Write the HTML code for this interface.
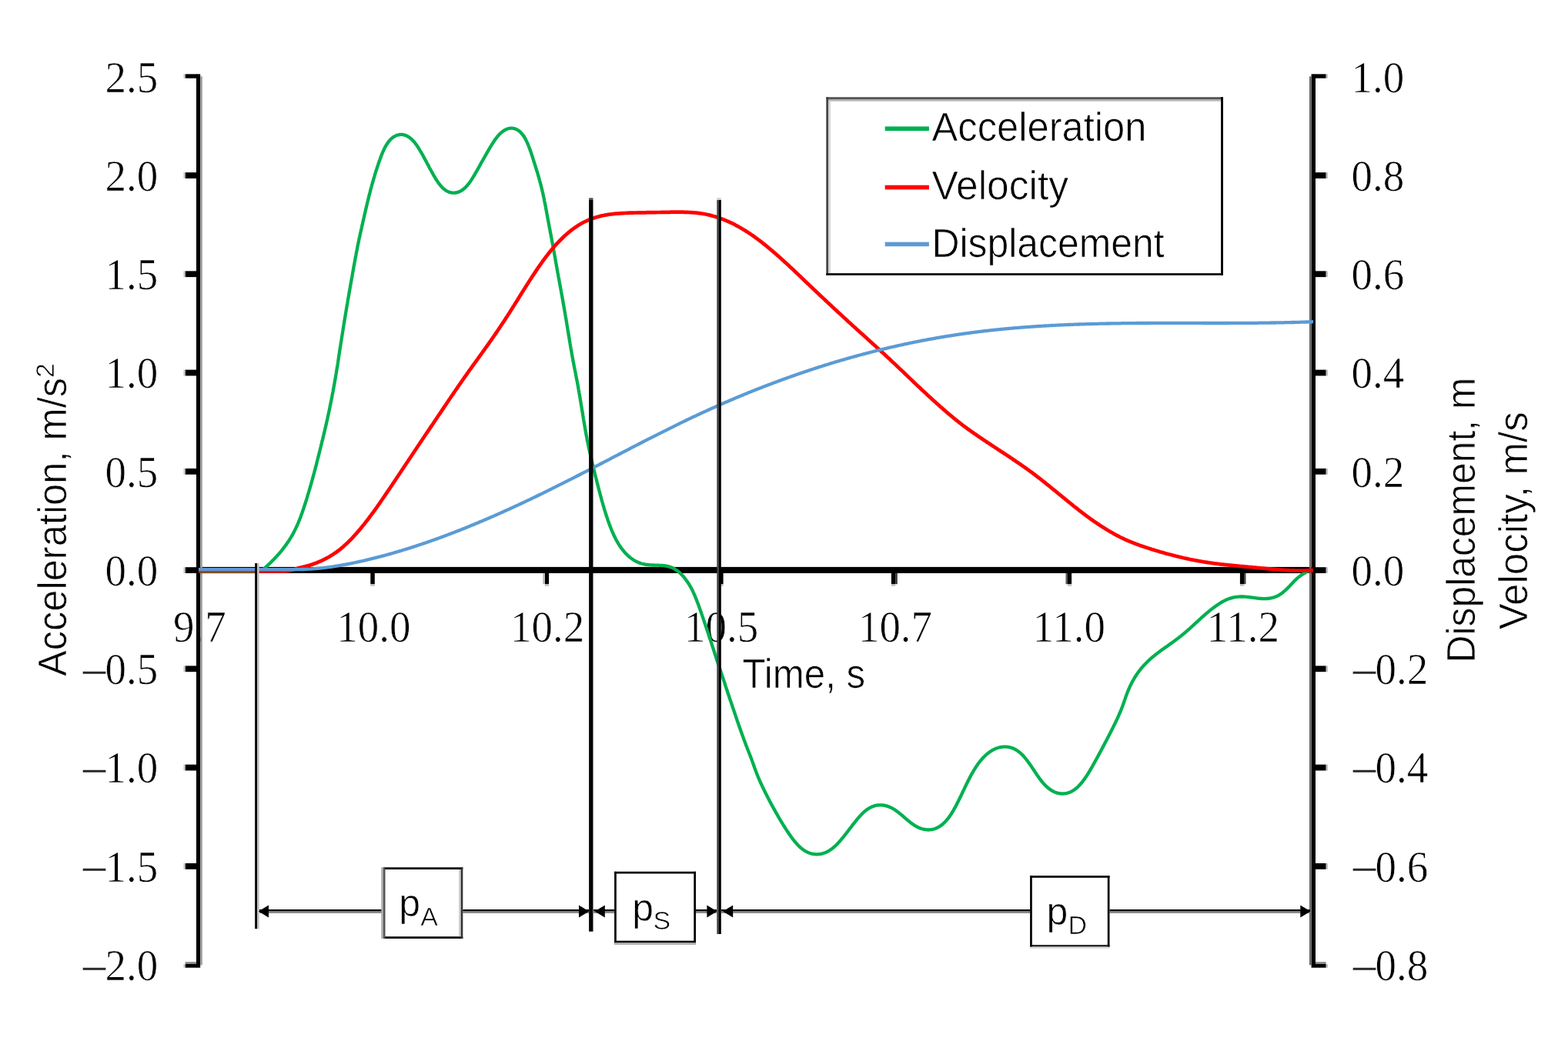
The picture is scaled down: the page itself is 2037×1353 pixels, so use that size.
<!DOCTYPE html>
<html lang="en"><head><meta charset="utf-8"><title>Acceleration, velocity and displacement vs time</title>
<style>html,body{margin:0;padding:0;background:#fff}body{width:2037px;height:1353px;overflow:hidden}svg{display:block}text{fill:#000;stroke:#fff;stroke-width:0.7px}</style>
</head><body>
<svg width="2037" height="1353" viewBox="0 0 2037 1353">
<rect x="0" y="0" width="2037" height="1353" fill="#fff"/>
<g font-family="'Liberation Serif',serif" font-size="57.5" style="stroke-width:0.3px">
<text x="136.6" y="119.5" textLength="68.8" lengthAdjust="spacingAndGlyphs">2.5</text>
<text x="136.6" y="247.8" textLength="68.8" lengthAdjust="spacingAndGlyphs">2.0</text>
<text x="136.6" y="376.0" textLength="68.8" lengthAdjust="spacingAndGlyphs">1.5</text>
<text x="136.6" y="504.3" textLength="68.8" lengthAdjust="spacingAndGlyphs">1.0</text>
<text x="136.6" y="632.6" textLength="68.8" lengthAdjust="spacingAndGlyphs">0.5</text>
<text x="136.6" y="760.9" textLength="68.8" lengthAdjust="spacingAndGlyphs">0.0</text>
<text><tspan x="104.5" y="893.8" font-size="60" textLength="36.0" lengthAdjust="spacingAndGlyphs" style="stroke:none;fill:#2a2a2a">−</tspan><tspan x="136.6" y="889.1" textLength="68.8" lengthAdjust="spacingAndGlyphs">0.5</tspan></text>
<text><tspan x="104.5" y="1022.1" font-size="60" textLength="36.0" lengthAdjust="spacingAndGlyphs" style="stroke:none;fill:#2a2a2a">−</tspan><tspan x="136.6" y="1017.4" textLength="68.8" lengthAdjust="spacingAndGlyphs">1.0</tspan></text>
<text><tspan x="104.5" y="1150.4" font-size="60" textLength="36.0" lengthAdjust="spacingAndGlyphs" style="stroke:none;fill:#2a2a2a">−</tspan><tspan x="136.6" y="1145.7" textLength="68.8" lengthAdjust="spacingAndGlyphs">1.5</tspan></text>
<text><tspan x="104.5" y="1278.6" font-size="60" textLength="36.0" lengthAdjust="spacingAndGlyphs" style="stroke:none;fill:#2a2a2a">−</tspan><tspan x="136.6" y="1273.9" textLength="68.8" lengthAdjust="spacingAndGlyphs">2.0</tspan></text>
<text x="1755.6" y="119.5" textLength="68.8" lengthAdjust="spacingAndGlyphs">1.0</text>
<text x="1755.6" y="247.8" textLength="68.8" lengthAdjust="spacingAndGlyphs">0.8</text>
<text x="1755.6" y="376.0" textLength="68.8" lengthAdjust="spacingAndGlyphs">0.6</text>
<text x="1755.6" y="504.3" textLength="68.8" lengthAdjust="spacingAndGlyphs">0.4</text>
<text x="1755.6" y="632.6" textLength="68.8" lengthAdjust="spacingAndGlyphs">0.2</text>
<text x="1755.6" y="760.9" textLength="68.8" lengthAdjust="spacingAndGlyphs">0.0</text>
<text><tspan x="1754.6" y="893.8" font-size="60" textLength="36.0" lengthAdjust="spacingAndGlyphs" style="stroke:none;fill:#2a2a2a">−</tspan><tspan x="1786.6" y="889.1" textLength="68.8" lengthAdjust="spacingAndGlyphs">0.2</tspan></text>
<text><tspan x="1754.6" y="1022.1" font-size="60" textLength="36.0" lengthAdjust="spacingAndGlyphs" style="stroke:none;fill:#2a2a2a">−</tspan><tspan x="1786.6" y="1017.4" textLength="68.8" lengthAdjust="spacingAndGlyphs">0.4</tspan></text>
<text><tspan x="1754.6" y="1150.4" font-size="60" textLength="36.0" lengthAdjust="spacingAndGlyphs" style="stroke:none;fill:#2a2a2a">−</tspan><tspan x="1786.6" y="1145.7" textLength="68.8" lengthAdjust="spacingAndGlyphs">0.6</tspan></text>
<text><tspan x="1754.6" y="1278.6" font-size="60" textLength="36.0" lengthAdjust="spacingAndGlyphs" style="stroke:none;fill:#2a2a2a">−</tspan><tspan x="1786.6" y="1273.9" textLength="68.8" lengthAdjust="spacingAndGlyphs">0.8</tspan></text>
<text x="225.0" y="834.0" textLength="68.8" lengthAdjust="spacingAndGlyphs">9.7</text>
<text x="437.2" y="834.0" textLength="96.2" lengthAdjust="spacingAndGlyphs">10.0</text>
<text x="663.1" y="834.0" textLength="96.2" lengthAdjust="spacingAndGlyphs">10.2</text>
<text x="889.0" y="834.0" textLength="96.2" lengthAdjust="spacingAndGlyphs">10.5</text>
<text x="1114.9" y="834.0" textLength="96.2" lengthAdjust="spacingAndGlyphs">10.7</text>
<text x="1341.8" y="834.0" textLength="94.2" lengthAdjust="spacingAndGlyphs">11.0</text>
<text x="1567.7" y="834.0" textLength="94.2" lengthAdjust="spacingAndGlyphs">11.2</text>
</g>
<text font-family="'Liberation Sans',sans-serif" font-size="53" x="964.6" y="894.1" textLength="159.5" lengthAdjust="spacingAndGlyphs">Time, s</text>
<g fill="#000">
<rect x="255" y="736.9" width="1454" height="8.1"/>
<rect x="255" y="96.3" width="5.2" height="1161.4"/>
<rect x="1703.6" y="96.3" width="5.4" height="1161.4"/>
<rect x="240.6" y="96.3" width="15" height="5.4"/>
<rect x="1708.5" y="96.3" width="14.2" height="5.4"/>
<rect x="240.6" y="224.1" width="15" height="7.8"/>
<rect x="1708.5" y="224.1" width="14.2" height="7.8"/>
<rect x="240.6" y="352.3" width="15" height="7.8"/>
<rect x="1708.5" y="352.3" width="14.2" height="7.8"/>
<rect x="240.6" y="480.6" width="15" height="7.8"/>
<rect x="1708.5" y="480.6" width="14.2" height="7.8"/>
<rect x="240.6" y="608.9" width="15" height="7.8"/>
<rect x="1708.5" y="608.9" width="14.2" height="7.8"/>
<rect x="240.6" y="737.2" width="15" height="7.8"/>
<rect x="1708.5" y="737.2" width="14.2" height="7.8"/>
<rect x="240.6" y="865.4" width="15" height="7.8"/>
<rect x="1708.5" y="865.4" width="14.2" height="7.8"/>
<rect x="240.6" y="993.7" width="15" height="7.8"/>
<rect x="1708.5" y="993.7" width="14.2" height="7.8"/>
<rect x="240.6" y="1122.0" width="15" height="7.8"/>
<rect x="1708.5" y="1122.0" width="14.2" height="7.8"/>
<rect x="240.6" y="1253.0" width="15" height="4.7"/>
<rect x="1708.5" y="1253.0" width="14.2" height="4.7"/>
<rect x="481.3" y="744" width="5.5" height="15.2"/>
<rect x="707.8" y="744" width="5.3" height="15.2"/>
<rect x="934.3" y="744" width="5.3" height="15.2"/>
<rect x="1157.9" y="744" width="5.3" height="15.2"/>
<rect x="1387.0" y="744" width="5.1" height="15.2"/>
<rect x="1610.9" y="744" width="5.2" height="15.2"/>
</g>
<g fill="#9a9a9a">
<rect x="260.2" y="99.3" width="2.6" height="1155"/>
</g>
<g fill="#666">
<rect x="1701" y="99.3" width="2.6" height="1155"/>
<rect x="1163.2" y="745" width="2.6" height="14.2" fill="#333"/>
<rect x="1384.5" y="745" width="2.5" height="14.2" fill="#555"/>
<rect x="240.6" y="1250.2" width="14.4" height="2.8" fill="#888"/>
<rect x="1709" y="1250.2" width="13.7" height="2.8" fill="#888"/>
<rect x="1616" y="745" width="2.5" height="14.2" fill="#444"/>
</g>
<g fill="#bbb">
<rect x="481.3" y="759.2" width="5.5" height="2.5"/>
<rect x="707.8" y="759.2" width="5.3" height="2.5"/>
<rect x="934.3" y="759.2" width="5.3" height="2.5"/>
<rect x="1157.9" y="759.2" width="5.3" height="2.5"/>
<rect x="1387.0" y="759.2" width="5.1" height="2.5"/>
<rect x="1610.9" y="759.2" width="5.2" height="2.5"/>
<rect x="705.2" y="745" width="2.6" height="14.2"/>
<rect x="238.6" y="96.3" width="2" height="5.4"/>
<rect x="1722.7" y="96.3" width="2.2" height="5.4"/>
<rect x="238.6" y="224.1" width="2" height="7.8"/>
<rect x="1722.7" y="224.1" width="2.2" height="7.8"/>
<rect x="238.6" y="352.3" width="2" height="7.8"/>
<rect x="1722.7" y="352.3" width="2.2" height="7.8"/>
<rect x="238.6" y="480.6" width="2" height="7.8"/>
<rect x="1722.7" y="480.6" width="2.2" height="7.8"/>
<rect x="238.6" y="608.9" width="2" height="7.8"/>
<rect x="1722.7" y="608.9" width="2.2" height="7.8"/>
<rect x="238.6" y="737.2" width="2" height="7.8"/>
<rect x="1722.7" y="737.2" width="2.2" height="7.8"/>
<rect x="238.6" y="865.4" width="2" height="7.8"/>
<rect x="1722.7" y="865.4" width="2.2" height="7.8"/>
<rect x="238.6" y="993.7" width="2" height="7.8"/>
<rect x="1722.7" y="993.7" width="2.2" height="7.8"/>
<rect x="238.6" y="1122.0" width="2" height="7.8"/>
<rect x="1722.7" y="1122.0" width="2.2" height="7.8"/>
<rect x="238.6" y="1253.0" width="2" height="4.7"/>
<rect x="1722.7" y="1253.0" width="2.2" height="4.7"/>
</g>
<polyline fill="none" stroke="#00b050" stroke-width="4.3" stroke-linejoin="round" stroke-linecap="butt" points="258.0,741.0 341.0,741.0 341.8,740.3 342.5,739.7 343.2,739.0 344.0,738.3 344.7,737.6 345.4,737.0 346.2,736.3 346.9,735.6 347.6,734.9 348.4,734.2 349.1,733.5 349.8,732.8 350.5,732.2 351.3,731.5 352.0,730.8 352.7,730.0 353.4,729.3 354.1,728.6 354.8,727.9 355.5,727.2 356.2,726.5 356.9,725.8 357.6,725.0 358.3,724.3 358.9,723.6 359.6,722.8 360.3,722.1 360.9,721.4 361.6,720.6 362.3,719.9 362.9,719.1 363.6,718.3 364.2,717.6 364.9,716.8 365.5,716.0 366.1,715.3 366.7,714.5 367.4,713.7 368.0,712.9 368.6,712.1 369.2,711.3 369.8,710.5 370.4,709.7 371.0,708.9 371.6,708.1 372.2,707.3 372.7,706.5 373.3,705.6 373.9,704.8 374.4,704.0 375.0,703.1 375.5,702.3 376.1,701.5 376.6,700.6 377.1,699.8 377.7,698.9 378.2,698.1 378.7,697.2 379.2,696.3 379.7,695.5 380.2,694.6 380.7,693.7 381.1,692.8 381.6,691.9 382.1,691.1 382.5,690.2 383.0,689.3 383.4,688.4 383.9,687.5 384.3,686.6 384.7,685.7 385.1,684.8 385.6,683.8 386.0,682.9 386.4,682.0 386.8,681.1 387.2,680.2 387.6,679.3 387.9,678.3 388.3,677.4 388.7,676.5 389.1,675.6 389.4,674.6 389.8,673.7 390.2,672.8 390.5,671.8 390.9,670.9 391.2,669.9 391.5,669.0 391.9,668.1 392.2,667.1 392.6,666.2 392.9,665.2 393.2,664.3 393.5,663.3 393.9,662.4 394.2,661.5 394.5,660.5 394.8,659.6 395.1,658.6 395.4,657.6 395.8,656.7 396.1,655.7 396.4,654.8 396.7,653.8 397.0,652.9 397.3,651.9 397.6,651.0 397.9,650.0 398.2,649.0 398.5,648.1 398.8,647.1 399.1,646.2 399.4,645.2 399.6,644.3 399.9,643.3 400.2,642.3 400.5,641.4 400.8,640.4 401.1,639.5 401.4,638.5 401.7,637.5 401.9,636.6 402.2,635.6 402.5,634.6 402.8,633.7 403.0,632.7 403.3,631.8 403.6,630.8 403.9,629.8 404.1,628.9 404.4,627.9 404.7,627.0 405.0,626.0 405.2,625.0 405.5,624.1 405.8,623.1 406.0,622.2 406.3,621.2 406.6,620.2 406.8,619.3 407.1,618.3 407.3,617.3 407.6,616.4 407.9,615.4 408.1,614.5 408.4,613.5 408.6,612.5 408.9,611.6 409.2,610.6 409.4,609.6 409.7,608.7 409.9,607.7 410.2,606.7 410.4,605.8 410.7,604.8 410.9,603.8 411.2,602.9 411.4,601.9 411.6,600.9 411.9,600.0 412.1,599.0 412.4,598.0 412.6,597.1 412.9,596.1 413.1,595.1 413.4,594.1 413.6,593.2 413.9,592.2 414.1,591.2 414.3,590.3 414.6,589.3 414.8,588.3 415.1,587.3 415.3,586.4 415.6,585.4 415.8,584.4 416.0,583.5 416.3,582.5 416.5,581.5 416.8,580.5 417.0,579.6 417.2,578.6 417.5,577.6 417.7,576.7 418.0,575.7 418.2,574.7 418.4,573.7 418.7,572.8 418.9,571.8 419.2,570.8 419.4,569.9 419.6,568.9 419.9,567.9 420.1,566.9 420.3,566.0 420.6,565.0 420.8,564.0 421.0,563.1 421.3,562.1 421.5,561.1 421.7,560.1 422.0,559.2 422.2,558.2 422.4,557.2 422.6,556.3 422.9,555.3 423.1,554.3 423.3,553.3 423.5,552.4 423.8,551.4 424.0,550.4 424.2,549.4 424.4,548.5 424.6,547.5 424.8,546.5 425.1,545.5 425.3,544.6 425.5,543.6 425.7,542.6 425.9,541.6 426.1,540.7 426.3,539.7 426.6,538.7 426.8,537.7 427.0,536.8 427.2,535.8 427.4,534.8 427.6,533.8 427.8,532.8 428.0,531.9 428.2,530.9 428.4,529.9 428.6,528.9 428.8,527.9 429.0,527.0 429.2,526.0 429.4,525.0 429.6,524.0 429.8,523.0 430.0,522.1 430.2,521.1 430.4,520.1 430.6,519.1 430.8,518.1 431.0,517.2 431.2,516.2 431.4,515.2 431.5,514.2 431.7,513.2 431.9,512.2 432.1,511.3 432.3,510.3 432.5,509.3 432.7,508.3 432.8,507.3 433.0,506.3 433.2,505.4 433.4,504.4 433.6,503.4 433.7,502.4 433.9,501.4 434.1,500.4 434.3,499.5 434.5,498.5 434.6,497.5 434.8,496.5 435.0,495.5 435.1,494.5 435.3,493.5 435.5,492.6 435.7,491.6 435.8,490.6 436.0,489.6 436.2,488.6 436.3,487.6 436.5,486.6 436.7,485.6 436.8,484.7 437.0,483.7 437.1,482.7 437.3,481.7 437.5,480.7 437.6,479.7 437.8,478.7 437.9,477.7 438.1,476.8 438.3,475.8 438.4,474.8 438.6,473.8 438.7,472.8 438.9,471.8 439.0,470.8 439.2,469.8 439.3,468.8 439.5,467.9 439.6,466.9 439.8,465.9 439.9,464.9 440.1,463.9 440.2,462.9 440.4,461.9 440.5,460.9 440.7,459.9 440.8,459.0 441.0,458.0 441.1,457.0 441.3,456.0 441.4,455.0 441.6,454.0 441.7,453.0 441.9,452.0 442.1,451.0 442.2,450.1 442.4,449.1 442.5,448.1 442.7,447.1 442.8,446.1 443.0,445.1 443.1,444.1 443.3,443.1 443.4,442.2 443.6,441.2 443.7,440.2 443.9,439.2 444.1,438.2 444.2,437.2 444.4,436.2 444.5,435.2 444.7,434.3 444.8,433.3 445.0,432.3 445.1,431.3 445.3,430.3 445.5,429.3 445.6,428.3 445.8,427.4 445.9,426.4 446.1,425.4 446.3,424.4 446.4,423.4 446.6,422.4 446.7,421.4 446.9,420.4 447.1,419.5 447.2,418.5 447.4,417.5 447.5,416.5 447.7,415.5 447.9,414.5 448.0,413.5 448.2,412.5 448.3,411.6 448.5,410.6 448.7,409.6 448.8,408.6 449.0,407.6 449.2,406.6 449.3,405.6 449.5,404.7 449.7,403.7 449.8,402.7 450.0,401.7 450.2,400.7 450.3,399.7 450.5,398.7 450.7,397.7 450.8,396.8 451.0,395.8 451.2,394.8 451.3,393.8 451.5,392.8 451.7,391.8 451.8,390.8 452.0,389.9 452.2,388.9 452.3,387.9 452.5,386.9 452.7,385.9 452.9,384.9 453.0,383.9 453.2,383.0 453.4,382.0 453.5,381.0 453.7,380.0 453.9,379.0 454.1,378.0 454.2,377.0 454.4,376.1 454.6,375.1 454.7,374.1 454.9,373.1 455.1,372.1 455.3,371.1 455.4,370.1 455.6,369.2 455.8,368.2 456.0,367.2 456.1,366.2 456.3,365.2 456.5,364.2 456.7,363.3 456.8,362.3 457.0,361.3 457.2,360.3 457.4,359.3 457.5,358.3 457.7,357.3 457.9,356.4 458.1,355.4 458.2,354.4 458.4,353.4 458.6,352.4 458.8,351.4 458.9,350.5 459.1,349.5 459.3,348.5 459.5,347.5 459.6,346.5 459.8,345.5 460.0,344.6 460.2,343.6 460.4,342.6 460.5,341.6 460.7,340.6 460.9,339.6 461.1,338.7 461.3,337.7 461.4,336.7 461.6,335.7 461.8,334.7 462.0,333.8 462.2,332.8 462.4,331.8 462.5,330.8 462.7,329.8 462.9,328.9 463.1,327.9 463.3,326.9 463.5,325.9 463.7,324.9 463.9,324.0 464.1,323.0 464.2,322.0 464.4,321.0 464.6,320.0 464.8,319.1 465.0,318.1 465.2,317.1 465.4,316.1 465.6,315.1 465.8,314.2 466.0,313.2 466.2,312.2 466.4,311.2 466.6,310.2 466.8,309.3 467.1,308.3 467.3,307.3 467.5,306.3 467.7,305.3 467.9,304.4 468.1,303.4 468.3,302.4 468.6,301.4 468.8,300.4 469.0,299.5 469.2,298.5 469.4,297.5 469.7,296.5 469.9,295.5 470.1,294.6 470.3,293.6 470.5,292.6 470.8,291.6 471.0,290.7 471.2,289.7 471.4,288.7 471.7,287.7 471.9,286.7 472.1,285.8 472.3,284.8 472.5,283.8 472.8,282.8 473.0,281.9 473.2,280.9 473.4,279.9 473.6,278.9 473.9,278.0 474.1,277.0 474.3,276.0 474.5,275.1 474.8,274.1 475.0,273.1 475.2,272.1 475.4,271.2 475.7,270.2 475.9,269.2 476.1,268.3 476.3,267.3 476.6,266.3 476.8,265.3 477.0,264.4 477.3,263.4 477.5,262.4 477.7,261.5 478.0,260.5 478.2,259.5 478.5,258.6 478.7,257.6 478.9,256.6 479.2,255.6 479.4,254.7 479.7,253.7 479.9,252.7 480.2,251.8 480.4,250.8 480.7,249.8 480.9,248.8 481.2,247.9 481.4,246.9 481.7,245.9 481.9,245.0 482.2,244.0 482.5,243.0 482.7,242.1 483.0,241.1 483.2,240.1 483.5,239.2 483.8,238.2 484.1,237.3 484.3,236.3 484.6,235.3 484.9,234.4 485.2,233.4 485.4,232.5 485.7,231.5 486.0,230.5 486.3,229.6 486.6,228.6 486.9,227.7 487.1,226.7 487.4,225.8 487.7,224.8 488.0,223.9 488.3,222.9 488.6,222.0 488.9,221.0 489.2,220.1 489.5,219.1 489.8,218.2 490.1,217.2 490.5,216.3 490.8,215.3 491.1,214.4 491.4,213.4 491.7,212.5 492.0,211.5 492.4,210.6 492.7,209.6 493.0,208.7 493.4,207.7 493.7,206.8 494.1,205.8 494.4,204.9 494.8,203.9 495.1,203.0 495.5,202.0 495.9,201.1 496.2,200.2 496.6,199.2 497.0,198.3 497.4,197.3 497.8,196.4 498.3,195.5 498.7,194.6 499.1,193.6 499.6,192.7 500.1,191.8 500.5,190.9 501.0,190.0 501.5,189.1 502.1,188.3 502.6,187.4 503.1,186.6 503.7,185.7 504.3,184.9 504.9,184.1 505.5,183.3 506.2,182.5 506.9,181.8 507.5,181.1 508.3,180.4 509.0,179.7 509.7,179.1 510.5,178.5 511.3,178.0 512.2,177.5 513.0,177.0 513.9,176.6 514.7,176.2 515.6,175.8 516.6,175.5 517.5,175.3 518.4,175.1 519.3,175.0 520.3,174.9 521.2,174.9 522.2,174.9 523.1,175.0 524.0,175.2 525.0,175.4 525.9,175.6 526.8,175.9 527.6,176.3 528.5,176.6 529.4,177.1 530.2,177.6 531.0,178.1 531.8,178.6 532.6,179.2 533.4,179.8 534.1,180.4 534.8,181.1 535.5,181.8 536.2,182.5 536.9,183.2 537.6,184.0 538.2,184.7 538.9,185.5 539.5,186.3 540.1,187.1 540.7,187.9 541.3,188.8 541.9,189.6 542.4,190.5 543.0,191.3 543.6,192.2 544.1,193.0 544.6,193.9 545.2,194.8 545.7,195.7 546.2,196.6 546.7,197.4 547.3,198.3 547.8,199.2 548.3,200.1 548.8,201.0 549.3,201.9 549.8,202.8 550.3,203.7 550.7,204.6 551.2,205.5 551.7,206.4 552.2,207.3 552.7,208.2 553.2,209.1 553.7,210.0 554.1,210.9 554.6,211.8 555.1,212.7 555.6,213.6 556.1,214.5 556.6,215.4 557.1,216.3 557.5,217.2 558.0,218.2 558.5,219.1 559.0,220.0 559.5,220.9 560.0,221.8 560.5,222.7 561.0,223.6 561.5,224.5 562.0,225.4 562.5,226.3 563.0,227.2 563.5,228.1 564.1,229.0 564.6,229.9 565.1,230.8 565.7,231.7 566.2,232.6 566.7,233.5 567.3,234.3 567.9,235.2 568.5,236.0 569.0,236.9 569.6,237.7 570.2,238.6 570.9,239.4 571.5,240.2 572.1,241.0 572.8,241.7 573.5,242.5 574.1,243.2 574.8,243.9 575.5,244.6 576.3,245.2 577.0,245.9 577.8,246.5 578.5,247.0 579.3,247.6 580.2,248.1 581.0,248.5 581.8,249.0 582.7,249.3 583.6,249.7 584.5,250.0 585.4,250.2 586.3,250.4 587.2,250.6 588.1,250.7 589.1,250.7 590.0,250.7 590.9,250.6 591.8,250.5 592.8,250.4 593.7,250.2 594.6,249.9 595.5,249.6 596.4,249.3 597.2,248.9 598.1,248.5 598.9,248.0 599.7,247.5 600.6,247.0 601.3,246.4 602.1,245.8 602.9,245.2 603.6,244.5 604.3,243.9 605.0,243.2 605.7,242.4 606.4,241.7 607.0,241.0 607.7,240.2 608.3,239.4 609.0,238.6 609.6,237.8 610.2,237.0 610.8,236.1 611.3,235.3 611.9,234.5 612.5,233.6 613.0,232.8 613.6,231.9 614.1,231.0 614.7,230.1 615.2,229.3 615.8,228.4 616.3,227.5 616.8,226.6 617.3,225.7 617.8,224.8 618.3,223.9 618.9,223.1 619.4,222.2 619.9,221.3 620.4,220.4 620.9,219.5 621.4,218.6 621.9,217.7 622.4,216.8 622.9,215.9 623.4,215.0 623.9,214.2 624.3,213.3 624.8,212.4 625.3,211.5 625.8,210.6 626.3,209.7 626.8,208.9 627.3,208.0 627.8,207.1 628.3,206.2 628.8,205.4 629.3,204.5 629.8,203.6 630.3,202.7 630.8,201.8 631.3,201.0 631.8,200.1 632.3,199.2 632.8,198.3 633.3,197.5 633.8,196.6 634.3,195.7 634.8,194.8 635.3,193.9 635.9,193.1 636.4,192.2 636.9,191.3 637.4,190.4 638.0,189.5 638.5,188.7 639.0,187.8 639.6,186.9 640.2,186.0 640.7,185.2 641.3,184.3 641.9,183.4 642.4,182.6 643.0,181.7 643.6,180.9 644.2,180.1 644.9,179.2 645.5,178.4 646.1,177.6 646.8,176.8 647.5,176.1 648.1,175.3 648.8,174.6 649.5,173.9 650.3,173.2 651.0,172.5 651.8,171.9 652.5,171.2 653.3,170.6 654.1,170.1 654.9,169.6 655.7,169.1 656.6,168.6 657.4,168.2 658.3,167.8 659.2,167.5 660.1,167.2 661.0,167.0 661.9,166.8 662.8,166.7 663.8,166.7 664.7,166.7 665.6,166.7 666.5,166.8 667.4,167.0 668.3,167.2 669.2,167.4 670.1,167.8 670.9,168.1 671.8,168.6 672.6,169.0 673.4,169.6 674.2,170.1 674.9,170.7 675.6,171.3 676.3,172.0 677.0,172.7 677.7,173.4 678.3,174.2 678.9,175.0 679.5,175.8 680.1,176.6 680.7,177.4 681.2,178.3 681.7,179.2 682.2,180.0 682.7,180.9 683.2,181.8 683.6,182.7 684.1,183.7 684.5,184.6 684.9,185.5 685.4,186.5 685.8,187.4 686.2,188.4 686.5,189.3 686.9,190.3 687.3,191.3 687.7,192.2 688.0,193.2 688.4,194.1 688.7,195.1 689.1,196.1 689.4,197.0 689.7,198.0 690.1,199.0 690.4,199.9 690.7,200.9 691.0,201.9 691.4,202.8 691.7,203.8 692.0,204.8 692.3,205.7 692.6,206.7 692.9,207.6 693.2,208.6 693.5,209.6 693.8,210.5 694.1,211.5 694.4,212.4 694.7,213.4 695.0,214.3 695.3,215.3 695.6,216.3 695.9,217.2 696.2,218.2 696.5,219.1 696.8,220.1 697.1,221.1 697.4,222.0 697.7,223.0 698.0,223.9 698.3,224.9 698.6,225.9 698.9,226.8 699.1,227.8 699.4,228.8 699.7,229.7 700.0,230.7 700.2,231.6 700.5,232.6 700.8,233.6 701.0,234.5 701.3,235.5 701.5,236.5 701.8,237.4 702.1,238.4 702.3,239.4 702.6,240.3 702.8,241.3 703.1,242.3 703.3,243.2 703.5,244.2 703.8,245.2 704.0,246.1 704.3,247.1 704.5,248.1 704.7,249.1 704.9,250.0 705.2,251.0 705.4,252.0 705.6,253.0 705.8,253.9 706.0,254.9 706.2,255.9 706.4,256.9 706.7,257.9 706.9,258.9 707.1,259.8 707.2,260.8 707.4,261.8 707.6,262.8 707.8,263.8 708.0,264.8 708.2,265.7 708.4,266.7 708.6,267.7 708.8,268.7 709.0,269.7 709.1,270.7 709.3,271.6 709.5,272.6 709.7,273.6 709.9,274.6 710.1,275.6 710.2,276.6 710.4,277.6 710.6,278.5 710.8,279.5 711.0,280.5 711.2,281.5 711.3,282.5 711.5,283.5 711.7,284.4 711.9,285.4 712.1,286.4 712.2,287.4 712.4,288.4 712.6,289.3 712.8,290.3 713.0,291.3 713.2,292.3 713.3,293.3 713.5,294.2 713.7,295.2 713.9,296.2 714.1,297.2 714.3,298.2 714.5,299.1 714.6,300.1 714.8,301.1 715.0,302.1 715.2,303.1 715.4,304.0 715.6,305.0 715.8,306.0 715.9,307.0 716.1,308.0 716.3,308.9 716.5,309.9 716.7,310.9 716.9,311.9 717.0,312.9 717.2,313.9 717.4,314.9 717.6,315.9 717.8,316.8 718.0,317.8 718.2,318.8 718.4,319.8 718.5,320.8 718.7,321.8 718.9,322.8 719.1,323.8 719.3,324.8 719.4,325.8 719.6,326.8 719.8,327.8 720.0,328.7 720.1,329.7 720.3,330.7 720.5,331.7 720.7,332.7 720.8,333.7 721.0,334.7 721.2,335.7 721.4,336.7 721.5,337.7 721.7,338.7 721.9,339.6 722.0,340.6 722.2,341.6 722.4,342.6 722.6,343.6 722.8,344.6 722.9,345.6 723.1,346.5 723.3,347.5 723.5,348.5 723.6,349.5 723.8,350.5 724.0,351.5 724.2,352.4 724.4,353.4 724.5,354.4 724.7,355.4 724.9,356.4 725.1,357.3 725.3,358.3 725.4,359.3 725.6,360.3 725.8,361.3 726.0,362.2 726.2,363.2 726.3,364.2 726.5,365.2 726.7,366.1 726.9,367.1 727.1,368.1 727.2,369.1 727.4,370.1 727.6,371.0 727.8,372.0 728.0,373.0 728.1,374.0 728.3,374.9 728.5,375.9 728.7,376.9 728.9,377.9 729.0,378.8 729.2,379.8 729.4,380.8 729.6,381.8 729.7,382.8 729.9,383.7 730.1,384.7 730.3,385.7 730.4,386.7 730.6,387.7 730.8,388.6 731.0,389.6 731.1,390.6 731.3,391.6 731.5,392.6 731.7,393.5 731.8,394.5 732.0,395.5 732.2,396.5 732.3,397.5 732.5,398.5 732.7,399.4 732.9,400.4 733.0,401.4 733.2,402.4 733.4,403.4 733.5,404.4 733.7,405.4 733.9,406.3 734.1,407.3 734.2,408.3 734.4,409.3 734.6,410.3 734.7,411.3 734.9,412.3 735.1,413.3 735.2,414.2 735.4,415.2 735.6,416.2 735.7,417.2 735.9,418.2 736.1,419.2 736.2,420.2 736.4,421.2 736.5,422.2 736.7,423.1 736.9,424.1 737.0,425.1 737.2,426.1 737.4,427.1 737.5,428.1 737.7,429.1 737.8,430.1 738.0,431.0 738.2,432.0 738.3,433.0 738.5,434.0 738.7,435.0 738.8,436.0 739.0,437.0 739.2,438.0 739.3,438.9 739.5,439.9 739.6,440.9 739.8,441.9 740.0,442.9 740.1,443.9 740.3,444.9 740.5,445.9 740.6,446.8 740.8,447.8 741.0,448.8 741.1,449.8 741.3,450.8 741.5,451.8 741.6,452.8 741.8,453.8 742.0,454.7 742.1,455.7 742.3,456.7 742.5,457.7 742.7,458.7 742.8,459.7 743.0,460.6 743.2,461.6 743.3,462.6 743.5,463.6 743.7,464.6 743.9,465.6 744.1,466.5 744.2,467.5 744.4,468.5 744.6,469.5 744.8,470.5 745.0,471.4 745.2,472.4 745.3,473.4 745.5,474.4 745.7,475.3 745.9,476.3 746.1,477.3 746.3,478.3 746.5,479.2 746.7,480.2 746.9,481.2 747.1,482.2 747.3,483.2 747.5,484.1 747.7,485.1 747.9,486.1 748.0,487.1 748.2,488.1 748.4,489.1 748.6,490.0 748.8,491.0 749.0,492.0 749.2,493.0 749.4,494.0 749.6,495.0 749.8,496.0 750.0,496.9 750.1,497.9 750.3,498.9 750.5,499.9 750.7,500.9 750.9,501.9 751.0,502.9 751.2,503.8 751.4,504.8 751.6,505.8 751.7,506.8 751.9,507.8 752.1,508.8 752.3,509.8 752.4,510.8 752.6,511.8 752.8,512.7 752.9,513.7 753.1,514.7 753.3,515.7 753.4,516.7 753.6,517.7 753.8,518.7 753.9,519.7 754.1,520.6 754.3,521.6 754.4,522.6 754.6,523.6 754.7,524.6 754.9,525.6 755.1,526.6 755.2,527.6 755.4,528.5 755.6,529.5 755.7,530.5 755.9,531.5 756.0,532.5 756.2,533.5 756.4,534.5 756.5,535.4 756.7,536.4 756.9,537.4 757.0,538.4 757.2,539.4 757.3,540.4 757.5,541.3 757.7,542.3 757.8,543.3 758.0,544.3 758.1,545.3 758.3,546.3 758.5,547.2 758.6,548.2 758.8,549.2 759.0,550.2 759.1,551.2 759.3,552.2 759.5,553.1 759.6,554.1 759.8,555.1 760.0,556.1 760.1,557.1 760.3,558.1 760.5,559.0 760.6,560.0 760.8,561.0 761.0,562.0 761.2,563.0 761.3,563.9 761.5,564.9 761.7,565.9 761.9,566.9 762.1,567.9 762.3,568.8 762.5,569.8 762.6,570.8 762.8,571.8 763.0,572.8 763.2,573.7 763.4,574.7 763.6,575.7 763.8,576.7 764.0,577.6 764.2,578.6 764.4,579.6 764.6,580.6 764.8,581.6 765.1,582.5 765.3,583.5 765.5,584.5 765.7,585.5 765.9,586.4 766.1,587.4 766.3,588.4 766.6,589.4 766.8,590.3 767.0,591.3 767.2,592.3 767.4,593.3 767.7,594.2 767.9,595.2 768.1,596.2 768.3,597.2 768.6,598.1 768.8,599.1 769.0,600.1 769.3,601.1 769.5,602.0 769.7,603.0 770.0,604.0 770.2,605.0 770.4,605.9 770.7,606.9 770.9,607.9 771.1,608.8 771.4,609.8 771.6,610.8 771.8,611.8 772.1,612.7 772.3,613.7 772.6,614.7 772.8,615.7 773.1,616.6 773.3,617.6 773.5,618.6 773.8,619.5 774.0,620.5 774.3,621.5 774.5,622.5 774.8,623.4 775.0,624.4 775.3,625.4 775.5,626.3 775.8,627.3 776.0,628.3 776.3,629.3 776.5,630.2 776.7,631.2 777.0,632.2 777.2,633.1 777.5,634.1 777.7,635.1 778.0,636.1 778.2,637.0 778.5,638.0 778.8,639.0 779.0,639.9 779.3,640.9 779.5,641.9 779.8,642.8 780.0,643.8 780.3,644.8 780.6,645.7 780.8,646.7 781.1,647.7 781.3,648.6 781.6,649.6 781.9,650.6 782.1,651.5 782.4,652.5 782.7,653.5 783.0,654.4 783.2,655.4 783.5,656.4 783.8,657.3 784.1,658.3 784.4,659.2 784.6,660.2 784.9,661.2 785.2,662.1 785.5,663.1 785.8,664.0 786.1,665.0 786.4,665.9 786.7,666.9 787.0,667.8 787.3,668.8 787.6,669.7 787.9,670.7 788.2,671.6 788.6,672.6 788.9,673.5 789.2,674.5 789.5,675.4 789.8,676.4 790.2,677.3 790.5,678.3 790.8,679.2 791.2,680.1 791.5,681.1 791.9,682.0 792.2,682.9 792.6,683.9 792.9,684.8 793.3,685.7 793.7,686.7 794.0,687.6 794.4,688.5 794.8,689.5 795.2,690.4 795.6,691.3 796.0,692.2 796.4,693.1 796.8,694.1 797.2,695.0 797.6,695.9 798.0,696.8 798.5,697.7 798.9,698.6 799.4,699.5 799.8,700.4 800.3,701.3 800.8,702.2 801.3,703.1 801.7,703.9 802.3,704.8 802.8,705.7 803.3,706.6 803.8,707.4 804.4,708.3 804.9,709.1 805.5,710.0 806.0,710.8 806.6,711.6 807.2,712.4 807.8,713.2 808.4,714.0 809.1,714.8 809.7,715.6 810.3,716.4 811.0,717.2 811.7,717.9 812.3,718.7 813.0,719.4 813.7,720.1 814.4,720.8 815.1,721.5 815.8,722.2 816.6,722.9 817.3,723.5 818.1,724.2 818.8,724.8 819.6,725.4 820.4,726.0 821.2,726.5 822.0,727.1 822.8,727.6 823.7,728.2 824.5,728.7 825.4,729.1 826.2,729.6 827.1,730.0 828.0,730.5 828.9,730.8 829.8,731.2 830.7,731.6 831.7,731.9 832.6,732.2 833.5,732.5 834.5,732.8 835.5,733.0 836.4,733.2 837.4,733.4 838.4,733.6 839.4,733.8 840.4,733.9 841.4,734.0 842.4,734.1 843.4,734.2 844.4,734.3 845.5,734.4 846.5,734.4 847.5,734.5 848.5,734.5 849.6,734.6 850.6,734.6 851.6,734.6 852.7,734.6 853.7,734.7 854.7,734.7 855.8,734.7 856.8,734.8 857.8,734.8 858.8,734.9 859.8,735.0 860.8,735.0 861.8,735.1 862.8,735.2 863.8,735.4 864.8,735.5 865.8,735.7 866.8,735.9 867.7,736.1 868.7,736.3 869.6,736.6 870.5,736.9 871.4,737.2 872.3,737.5 873.2,737.9 874.1,738.3 875.0,738.7 875.8,739.2 876.7,739.6 877.5,740.1 878.3,740.7 879.1,741.2 879.9,741.8 880.7,742.4 881.5,743.0 882.2,743.7 883.0,744.3 883.7,745.0 884.4,745.7 885.1,746.4 885.8,747.1 886.5,747.9 887.2,748.6 887.8,749.4 888.5,750.2 889.1,750.9 889.7,751.7 890.3,752.5 891.0,753.3 891.6,754.2 892.1,755.0 892.7,755.8 893.3,756.6 893.9,757.5 894.4,758.3 895.0,759.2 895.5,760.0 896.0,760.9 896.5,761.7 897.0,762.6 897.5,763.5 898.0,764.4 898.5,765.3 899.0,766.2 899.4,767.0 899.9,767.9 900.3,768.9 900.7,769.8 901.1,770.7 901.5,771.6 901.9,772.5 902.3,773.4 902.7,774.4 903.1,775.3 903.5,776.2 903.8,777.1 904.2,778.1 904.6,779.0 904.9,779.9 905.3,780.9 905.6,781.8 906.0,782.7 906.4,783.7 906.7,784.6 907.1,785.5 907.4,786.5 907.8,787.4 908.1,788.3 908.4,789.3 908.8,790.2 909.1,791.2 909.4,792.1 909.8,793.0 910.1,794.0 910.4,794.9 910.8,795.9 911.1,796.8 911.4,797.7 911.8,798.7 912.1,799.6 912.4,800.6 912.7,801.5 913.1,802.5 913.4,803.4 913.7,804.4 914.0,805.3 914.4,806.3 914.7,807.2 915.0,808.2 915.3,809.1 915.7,810.1 916.0,811.0 916.3,812.0 916.6,812.9 916.9,813.9 917.3,814.8 917.6,815.8 917.9,816.7 918.2,817.7 918.5,818.6 918.8,819.6 919.1,820.5 919.4,821.5 919.8,822.4 920.1,823.4 920.4,824.4 920.7,825.3 921.0,826.3 921.3,827.2 921.6,828.2 921.9,829.1 922.3,830.1 922.6,831.0 922.9,832.0 923.2,832.9 923.5,833.9 923.9,834.8 924.2,835.8 924.5,836.7 924.8,837.7 925.1,838.6 925.4,839.6 925.7,840.5 926.0,841.5 926.4,842.4 926.7,843.4 927.0,844.3 927.3,845.3 927.6,846.2 927.9,847.2 928.2,848.1 928.5,849.1 928.8,850.1 929.1,851.0 929.4,852.0 929.7,852.9 930.0,853.9 930.3,854.8 930.6,855.8 930.9,856.7 931.2,857.7 931.5,858.6 931.9,859.5 932.2,860.5 932.5,861.4 932.8,862.4 933.1,863.3 933.4,864.3 933.8,865.2 934.1,866.1 934.4,867.1 934.7,868.0 935.0,869.0 935.4,869.9 935.7,870.8 936.0,871.8 936.3,872.7 936.6,873.6 937.0,874.6 937.3,875.5 937.6,876.5 937.9,877.4 938.2,878.3 938.6,879.3 938.9,880.2 939.2,881.2 939.5,882.1 939.8,883.0 940.1,884.0 940.4,884.9 940.7,885.9 941.1,886.8 941.4,887.8 941.7,888.7 942.0,889.7 942.3,890.6 942.6,891.6 942.9,892.5 943.2,893.5 943.5,894.4 943.8,895.4 944.2,896.3 944.5,897.3 944.8,898.2 945.1,899.2 945.4,900.2 945.7,901.1 946.1,902.1 946.4,903.0 946.7,904.0 947.0,904.9 947.3,905.9 947.7,906.8 948.0,907.8 948.3,908.7 948.6,909.7 949.0,910.6 949.3,911.6 949.6,912.5 949.9,913.5 950.2,914.4 950.6,915.4 950.9,916.3 951.2,917.3 951.5,918.2 951.8,919.2 952.1,920.1 952.5,921.0 952.8,922.0 953.1,922.9 953.4,923.9 953.8,924.8 954.1,925.8 954.4,926.7 954.7,927.7 955.0,928.6 955.4,929.5 955.7,930.5 956.0,931.4 956.3,932.4 956.7,933.3 957.0,934.3 957.3,935.2 957.6,936.2 957.9,937.1 958.2,938.0 958.6,939.0 958.9,939.9 959.2,940.9 959.5,941.8 959.9,942.8 960.2,943.7 960.5,944.6 960.9,945.6 961.2,946.5 961.5,947.4 961.9,948.4 962.2,949.3 962.5,950.3 962.9,951.2 963.2,952.1 963.6,953.1 963.9,954.0 964.2,955.0 964.6,955.9 964.9,956.8 965.3,957.8 965.6,958.7 966.0,959.7 966.3,960.6 966.6,961.5 967.0,962.5 967.3,963.4 967.7,964.4 968.0,965.3 968.4,966.2 968.7,967.2 969.1,968.1 969.4,969.1 969.8,970.0 970.2,970.9 970.5,971.9 970.9,972.8 971.2,973.8 971.6,974.7 972.0,975.6 972.4,976.6 972.7,977.5 973.1,978.4 973.5,979.4 973.8,980.3 974.2,981.3 974.6,982.2 974.9,983.1 975.3,984.1 975.7,985.0 976.0,986.0 976.4,986.9 976.7,987.8 977.1,988.8 977.4,989.7 977.8,990.7 978.1,991.6 978.4,992.6 978.8,993.5 979.1,994.5 979.4,995.4 979.8,996.4 980.1,997.3 980.4,998.2 980.8,999.2 981.1,1000.1 981.5,1001.1 981.8,1002.0 982.2,1003.0 982.5,1003.9 982.9,1004.8 983.2,1005.8 983.6,1006.7 984.0,1007.6 984.4,1008.5 984.7,1009.5 985.1,1010.4 985.5,1011.3 985.9,1012.2 986.3,1013.2 986.7,1014.1 987.1,1015.0 987.5,1015.9 987.9,1016.8 988.3,1017.7 988.7,1018.6 989.1,1019.5 989.6,1020.4 990.0,1021.3 990.4,1022.2 990.8,1023.1 991.3,1024.0 991.7,1024.9 992.1,1025.8 992.6,1026.7 993.0,1027.6 993.4,1028.5 993.9,1029.4 994.3,1030.3 994.8,1031.2 995.2,1032.1 995.7,1032.9 996.1,1033.8 996.6,1034.7 997.0,1035.6 997.5,1036.5 997.9,1037.3 998.4,1038.2 998.8,1039.1 999.3,1040.0 999.8,1040.9 1000.2,1041.7 1000.7,1042.6 1001.2,1043.5 1001.6,1044.4 1002.1,1045.3 1002.6,1046.1 1003.1,1047.0 1003.5,1047.9 1004.0,1048.8 1004.5,1049.6 1005.0,1050.5 1005.5,1051.4 1006.0,1052.3 1006.4,1053.1 1006.9,1054.0 1007.4,1054.9 1007.9,1055.8 1008.4,1056.6 1008.9,1057.5 1009.4,1058.4 1009.9,1059.2 1010.4,1060.1 1010.9,1061.0 1011.4,1061.9 1011.9,1062.7 1012.4,1063.6 1012.9,1064.5 1013.4,1065.3 1013.9,1066.2 1014.5,1067.1 1015.0,1067.9 1015.5,1068.8 1016.0,1069.7 1016.6,1070.5 1017.1,1071.4 1017.6,1072.2 1018.2,1073.1 1018.7,1074.0 1019.2,1074.8 1019.8,1075.7 1020.3,1076.5 1020.9,1077.4 1021.4,1078.2 1022.0,1079.1 1022.5,1079.9 1023.1,1080.7 1023.6,1081.6 1024.2,1082.4 1024.8,1083.3 1025.3,1084.1 1025.9,1084.9 1026.5,1085.7 1027.1,1086.6 1027.6,1087.4 1028.2,1088.2 1028.8,1089.0 1029.4,1089.8 1030.0,1090.6 1030.6,1091.4 1031.3,1092.2 1031.9,1093.0 1032.5,1093.7 1033.2,1094.5 1033.8,1095.3 1034.5,1096.0 1035.1,1096.8 1035.8,1097.5 1036.5,1098.2 1037.2,1099.0 1037.9,1099.7 1038.6,1100.4 1039.3,1101.0 1040.1,1101.7 1040.8,1102.4 1041.6,1103.0 1042.4,1103.6 1043.2,1104.2 1044.0,1104.8 1044.8,1105.3 1045.7,1105.9 1046.5,1106.4 1047.4,1106.9 1048.3,1107.3 1049.1,1107.7 1050.1,1108.1 1051.0,1108.5 1051.9,1108.8 1052.8,1109.1 1053.8,1109.4 1054.8,1109.6 1055.7,1109.8 1056.7,1110.0 1057.7,1110.1 1058.6,1110.2 1059.6,1110.3 1060.6,1110.3 1061.6,1110.3 1062.6,1110.3 1063.6,1110.2 1064.6,1110.1 1065.5,1110.0 1066.5,1109.8 1067.5,1109.6 1068.4,1109.4 1069.4,1109.1 1070.3,1108.8 1071.2,1108.5 1072.2,1108.2 1073.1,1107.8 1074.0,1107.4 1074.8,1106.9 1075.7,1106.5 1076.6,1106.0 1077.4,1105.5 1078.2,1104.9 1079.1,1104.4 1079.9,1103.8 1080.7,1103.2 1081.5,1102.6 1082.2,1102.0 1083.0,1101.3 1083.8,1100.7 1084.5,1100.0 1085.2,1099.3 1086.0,1098.6 1086.7,1097.9 1087.4,1097.2 1088.1,1096.5 1088.8,1095.7 1089.5,1095.0 1090.2,1094.3 1090.8,1093.5 1091.5,1092.7 1092.2,1092.0 1092.8,1091.2 1093.5,1090.4 1094.1,1089.7 1094.8,1088.9 1095.4,1088.1 1096.0,1087.3 1096.7,1086.5 1097.3,1085.7 1097.9,1084.9 1098.6,1084.1 1099.2,1083.3 1099.8,1082.5 1100.4,1081.7 1101.0,1080.9 1101.7,1080.1 1102.3,1079.3 1102.9,1078.5 1103.5,1077.7 1104.1,1076.9 1104.7,1076.1 1105.4,1075.3 1106.0,1074.5 1106.6,1073.6 1107.2,1072.8 1107.8,1072.0 1108.5,1071.2 1109.1,1070.4 1109.7,1069.6 1110.4,1068.8 1111.0,1068.0 1111.6,1067.2 1112.3,1066.4 1112.9,1065.6 1113.6,1064.8 1114.2,1064.0 1114.9,1063.3 1115.6,1062.5 1116.2,1061.7 1116.9,1061.0 1117.6,1060.2 1118.3,1059.5 1119.0,1058.7 1119.7,1058.0 1120.4,1057.3 1121.1,1056.6 1121.8,1055.9 1122.6,1055.2 1123.3,1054.6 1124.1,1053.9 1124.9,1053.3 1125.7,1052.7 1126.4,1052.1 1127.3,1051.6 1128.1,1051.0 1128.9,1050.5 1129.8,1050.0 1130.6,1049.6 1131.5,1049.1 1132.4,1048.7 1133.3,1048.3 1134.2,1048.0 1135.1,1047.7 1136.0,1047.4 1136.9,1047.1 1137.9,1046.9 1138.8,1046.7 1139.8,1046.6 1140.7,1046.5 1141.7,1046.4 1142.6,1046.3 1143.6,1046.3 1144.6,1046.3 1145.5,1046.4 1146.5,1046.5 1147.4,1046.6 1148.4,1046.7 1149.3,1046.9 1150.3,1047.1 1151.2,1047.3 1152.1,1047.6 1153.1,1047.9 1154.0,1048.2 1154.9,1048.6 1155.8,1048.9 1156.7,1049.4 1157.6,1049.8 1158.5,1050.2 1159.4,1050.7 1160.2,1051.2 1161.1,1051.7 1162.0,1052.2 1162.8,1052.8 1163.7,1053.4 1164.5,1053.9 1165.3,1054.5 1166.1,1055.2 1167.0,1055.8 1167.8,1056.4 1168.6,1057.1 1169.4,1057.7 1170.2,1058.4 1171.0,1059.0 1171.8,1059.7 1172.6,1060.4 1173.4,1061.1 1174.2,1061.7 1174.9,1062.4 1175.7,1063.1 1176.5,1063.8 1177.3,1064.5 1178.1,1065.1 1178.9,1065.8 1179.7,1066.5 1180.5,1067.1 1181.3,1067.8 1182.1,1068.4 1182.9,1069.1 1183.7,1069.7 1184.5,1070.3 1185.4,1070.9 1186.2,1071.5 1187.0,1072.0 1187.9,1072.6 1188.7,1073.1 1189.6,1073.6 1190.5,1074.1 1191.3,1074.6 1192.2,1075.1 1193.1,1075.5 1194.0,1075.9 1194.9,1076.3 1195.9,1076.6 1196.8,1076.9 1197.7,1077.2 1198.7,1077.5 1199.6,1077.7 1200.6,1077.9 1201.5,1078.1 1202.5,1078.2 1203.5,1078.3 1204.4,1078.4 1205.4,1078.5 1206.4,1078.5 1207.3,1078.4 1208.3,1078.4 1209.3,1078.3 1210.2,1078.1 1211.2,1078.0 1212.1,1077.8 1213.1,1077.5 1214.0,1077.3 1214.9,1077.0 1215.8,1076.6 1216.7,1076.2 1217.6,1075.8 1218.4,1075.4 1219.3,1074.9 1220.1,1074.4 1221.0,1073.9 1221.8,1073.4 1222.6,1072.8 1223.3,1072.2 1224.1,1071.6 1224.9,1071.0 1225.6,1070.3 1226.3,1069.6 1227.0,1068.9 1227.7,1068.2 1228.4,1067.5 1229.1,1066.8 1229.8,1066.0 1230.4,1065.2 1231.0,1064.5 1231.7,1063.7 1232.3,1062.9 1232.9,1062.1 1233.5,1061.2 1234.1,1060.4 1234.6,1059.6 1235.2,1058.7 1235.8,1057.9 1236.3,1057.0 1236.8,1056.2 1237.4,1055.3 1237.9,1054.4 1238.4,1053.6 1238.9,1052.7 1239.4,1051.8 1239.9,1050.9 1240.4,1050.0 1240.9,1049.1 1241.4,1048.2 1241.8,1047.4 1242.3,1046.5 1242.8,1045.6 1243.2,1044.7 1243.7,1043.8 1244.1,1042.9 1244.6,1042.0 1245.0,1041.1 1245.5,1040.2 1245.9,1039.3 1246.4,1038.4 1246.8,1037.5 1247.3,1036.6 1247.7,1035.7 1248.1,1034.8 1248.6,1033.9 1249.0,1033.0 1249.4,1032.0 1249.9,1031.1 1250.3,1030.2 1250.7,1029.3 1251.2,1028.4 1251.6,1027.5 1252.0,1026.6 1252.5,1025.7 1252.9,1024.8 1253.3,1023.9 1253.8,1023.0 1254.2,1022.1 1254.6,1021.2 1255.1,1020.3 1255.5,1019.4 1255.9,1018.5 1256.4,1017.6 1256.8,1016.7 1257.3,1015.8 1257.7,1014.9 1258.2,1014.0 1258.6,1013.1 1259.1,1012.2 1259.6,1011.3 1260.0,1010.4 1260.5,1009.5 1261.0,1008.6 1261.4,1007.7 1261.9,1006.9 1262.4,1006.0 1262.9,1005.1 1263.4,1004.2 1263.9,1003.4 1264.4,1002.5 1264.9,1001.6 1265.4,1000.8 1266.0,999.9 1266.5,999.0 1267.0,998.2 1267.6,997.3 1268.1,996.5 1268.7,995.6 1269.3,994.8 1269.8,994.0 1270.4,993.1 1271.0,992.3 1271.6,991.5 1272.2,990.7 1272.8,989.9 1273.5,989.1 1274.1,988.3 1274.8,987.5 1275.4,986.8 1276.1,986.0 1276.8,985.3 1277.5,984.5 1278.2,983.8 1278.9,983.1 1279.6,982.4 1280.3,981.7 1281.1,981.0 1281.8,980.4 1282.6,979.7 1283.4,979.1 1284.2,978.5 1285.0,977.9 1285.8,977.3 1286.6,976.7 1287.4,976.2 1288.3,975.6 1289.1,975.1 1290.0,974.7 1290.9,974.2 1291.8,973.8 1292.7,973.4 1293.6,973.0 1294.5,972.6 1295.4,972.3 1296.4,972.0 1297.3,971.7 1298.3,971.5 1299.2,971.2 1300.2,971.1 1301.2,970.9 1302.1,970.8 1303.1,970.7 1304.1,970.6 1305.0,970.6 1306.0,970.6 1307.0,970.6 1307.9,970.7 1308.9,970.8 1309.8,970.9 1310.8,971.1 1311.7,971.3 1312.7,971.5 1313.6,971.8 1314.5,972.1 1315.4,972.4 1316.3,972.7 1317.2,973.1 1318.1,973.6 1318.9,974.0 1319.8,974.5 1320.6,975.0 1321.4,975.5 1322.2,976.1 1323.0,976.7 1323.8,977.3 1324.6,977.9 1325.4,978.6 1326.1,979.2 1326.8,979.9 1327.6,980.6 1328.3,981.3 1329.0,982.0 1329.7,982.8 1330.4,983.5 1331.0,984.3 1331.7,985.1 1332.3,985.9 1333.0,986.7 1333.6,987.5 1334.3,988.3 1334.9,989.1 1335.5,990.0 1336.1,990.8 1336.7,991.6 1337.3,992.5 1337.9,993.3 1338.5,994.2 1339.1,995.0 1339.7,995.9 1340.2,996.7 1340.8,997.6 1341.4,998.5 1342.0,999.3 1342.5,1000.2 1343.1,1001.1 1343.7,1001.9 1344.2,1002.8 1344.8,1003.6 1345.4,1004.5 1346.0,1005.4 1346.5,1006.2 1347.1,1007.1 1347.7,1007.9 1348.3,1008.8 1348.9,1009.6 1349.5,1010.4 1350.1,1011.3 1350.7,1012.1 1351.3,1012.9 1351.9,1013.7 1352.5,1014.5 1353.2,1015.3 1353.8,1016.1 1354.4,1016.9 1355.1,1017.7 1355.8,1018.4 1356.5,1019.2 1357.1,1019.9 1357.8,1020.6 1358.5,1021.4 1359.3,1022.1 1360.0,1022.7 1360.8,1023.4 1361.5,1024.0 1362.3,1024.7 1363.1,1025.3 1363.9,1025.9 1364.7,1026.4 1365.5,1027.0 1366.4,1027.5 1367.2,1028.0 1368.1,1028.4 1368.9,1028.9 1369.8,1029.3 1370.7,1029.7 1371.6,1030.0 1372.5,1030.3 1373.4,1030.6 1374.4,1030.8 1375.3,1031.1 1376.2,1031.2 1377.2,1031.4 1378.1,1031.5 1379.1,1031.5 1380.0,1031.6 1381.0,1031.6 1381.9,1031.5 1382.9,1031.4 1383.8,1031.3 1384.8,1031.2 1385.7,1031.0 1386.7,1030.7 1387.6,1030.5 1388.5,1030.2 1389.4,1029.8 1390.3,1029.5 1391.2,1029.1 1392.0,1028.6 1392.9,1028.2 1393.7,1027.7 1394.6,1027.2 1395.4,1026.6 1396.2,1026.1 1397.0,1025.5 1397.7,1024.9 1398.5,1024.2 1399.3,1023.6 1400.0,1022.9 1400.7,1022.2 1401.4,1021.5 1402.1,1020.8 1402.8,1020.0 1403.5,1019.3 1404.2,1018.5 1404.8,1017.7 1405.5,1017.0 1406.1,1016.2 1406.7,1015.4 1407.3,1014.5 1408.0,1013.7 1408.6,1012.9 1409.2,1012.1 1409.7,1011.2 1410.3,1010.4 1410.9,1009.5 1411.4,1008.7 1412.0,1007.8 1412.6,1007.0 1413.1,1006.1 1413.6,1005.3 1414.2,1004.4 1414.7,1003.5 1415.2,1002.7 1415.8,1001.8 1416.3,1000.9 1416.8,1000.0 1417.3,999.2 1417.8,998.3 1418.3,997.4 1418.8,996.6 1419.3,995.7 1419.8,994.8 1420.3,993.9 1420.8,993.0 1421.3,992.2 1421.8,991.3 1422.3,990.4 1422.7,989.5 1423.2,988.7 1423.7,987.8 1424.2,986.9 1424.7,986.0 1425.1,985.2 1425.6,984.3 1426.1,983.4 1426.6,982.5 1427.1,981.6 1427.5,980.8 1428.0,979.9 1428.5,979.0 1428.9,978.1 1429.4,977.2 1429.9,976.4 1430.4,975.5 1430.8,974.6 1431.3,973.7 1431.8,972.8 1432.3,971.9 1432.7,971.0 1433.2,970.2 1433.7,969.3 1434.1,968.4 1434.6,967.5 1435.1,966.6 1435.5,965.7 1436.0,964.8 1436.5,963.9 1437.0,963.0 1437.4,962.1 1437.9,961.2 1438.3,960.4 1438.8,959.5 1439.3,958.6 1439.7,957.7 1440.2,956.8 1440.7,955.9 1441.1,955.0 1441.6,954.1 1442.0,953.2 1442.5,952.3 1442.9,951.5 1443.4,950.6 1443.8,949.7 1444.3,948.8 1444.7,947.9 1445.2,947.0 1445.6,946.1 1446.1,945.2 1446.5,944.3 1447.0,943.4 1447.4,942.5 1447.8,941.7 1448.3,940.8 1448.7,939.9 1449.1,939.0 1449.6,938.1 1450.0,937.2 1450.4,936.3 1450.9,935.4 1451.3,934.5 1451.7,933.6 1452.1,932.7 1452.5,931.7 1452.9,930.8 1453.3,929.9 1453.7,929.0 1454.1,928.1 1454.5,927.2 1454.9,926.2 1455.3,925.3 1455.7,924.4 1456.1,923.5 1456.4,922.5 1456.8,921.6 1457.2,920.7 1457.5,919.7 1457.9,918.8 1458.3,917.8 1458.6,916.9 1458.9,916.0 1459.3,915.0 1459.6,914.1 1460.0,913.1 1460.3,912.2 1460.6,911.2 1460.9,910.3 1461.3,909.3 1461.6,908.4 1461.9,907.4 1462.2,906.5 1462.6,905.5 1462.9,904.6 1463.3,903.6 1463.6,902.7 1464.0,901.7 1464.3,900.8 1464.7,899.8 1465.0,898.9 1465.4,898.0 1465.8,897.1 1466.2,896.1 1466.6,895.2 1467.0,894.3 1467.4,893.4 1467.8,892.5 1468.2,891.6 1468.7,890.7 1469.1,889.8 1469.6,888.9 1470.0,888.0 1470.5,887.1 1470.9,886.2 1471.4,885.3 1471.9,884.4 1472.4,883.6 1472.9,882.7 1473.4,881.9 1473.9,881.0 1474.4,880.2 1475.0,879.3 1475.5,878.5 1476.0,877.6 1476.6,876.8 1477.1,876.0 1477.7,875.2 1478.3,874.4 1478.9,873.5 1479.5,872.7 1480.1,871.9 1480.7,871.2 1481.3,870.4 1481.9,869.6 1482.5,868.8 1483.2,868.1 1483.8,867.3 1484.5,866.5 1485.1,865.8 1485.8,865.1 1486.5,864.3 1487.2,863.6 1487.9,862.9 1488.6,862.1 1489.3,861.4 1490.0,860.7 1490.7,860.0 1491.4,859.3 1492.1,858.6 1492.9,858.0 1493.6,857.3 1494.3,856.6 1495.1,855.9 1495.8,855.3 1496.6,854.6 1497.4,854.0 1498.1,853.3 1498.9,852.7 1499.7,852.1 1500.4,851.5 1501.2,850.8 1502.0,850.2 1502.8,849.6 1503.6,849.0 1504.4,848.4 1505.2,847.8 1506.0,847.2 1506.8,846.6 1507.6,846.0 1508.4,845.4 1509.2,844.8 1510.0,844.2 1510.9,843.7 1511.7,843.1 1512.5,842.5 1513.3,841.9 1514.1,841.4 1514.9,840.8 1515.8,840.2 1516.6,839.6 1517.4,839.1 1518.2,838.5 1519.0,837.9 1519.8,837.3 1520.6,836.7 1521.5,836.2 1522.3,835.6 1523.1,835.0 1523.9,834.4 1524.7,833.8 1525.5,833.2 1526.3,832.6 1527.1,832.0 1527.9,831.4 1528.7,830.8 1529.5,830.2 1530.3,829.6 1531.1,829.0 1531.9,828.4 1532.7,827.8 1533.4,827.2 1534.2,826.6 1535.0,825.9 1535.8,825.3 1536.6,824.7 1537.3,824.0 1538.1,823.4 1538.9,822.7 1539.6,822.1 1540.4,821.5 1541.1,820.8 1541.9,820.1 1542.7,819.5 1543.4,818.8 1544.2,818.2 1544.9,817.5 1545.7,816.8 1546.4,816.2 1547.1,815.5 1547.9,814.8 1548.6,814.2 1549.4,813.5 1550.1,812.8 1550.8,812.1 1551.6,811.5 1552.3,810.8 1553.0,810.1 1553.8,809.4 1554.5,808.7 1555.2,808.1 1556.0,807.4 1556.7,806.7 1557.4,806.0 1558.2,805.4 1558.9,804.7 1559.7,804.0 1560.4,803.3 1561.1,802.7 1561.9,802.0 1562.6,801.3 1563.4,800.6 1564.1,800.0 1564.9,799.3 1565.6,798.7 1566.4,798.0 1567.2,797.3 1567.9,796.7 1568.7,796.1 1569.5,795.4 1570.2,794.8 1571.0,794.1 1571.8,793.5 1572.6,792.9 1573.4,792.2 1574.2,791.6 1575.0,791.0 1575.8,790.4 1576.6,789.8 1577.4,789.2 1578.2,788.6 1579.0,788.0 1579.8,787.4 1580.6,786.9 1581.5,786.3 1582.3,785.7 1583.1,785.2 1584.0,784.6 1584.8,784.1 1585.7,783.5 1586.5,783.0 1587.4,782.5 1588.2,782.0 1589.1,781.5 1590.0,781.1 1590.9,780.6 1591.8,780.2 1592.7,779.8 1593.6,779.4 1594.5,779.0 1595.4,778.6 1596.3,778.3 1597.3,777.9 1598.2,777.6 1599.2,777.4 1600.1,777.1 1601.1,776.8 1602.0,776.6 1603.0,776.4 1604.0,776.2 1604.9,776.1 1605.9,775.9 1606.9,775.8 1607.9,775.7 1608.9,775.6 1609.9,775.6 1610.8,775.5 1611.8,775.5 1612.8,775.5 1613.8,775.5 1614.8,775.5 1615.8,775.5 1616.8,775.6 1617.8,775.7 1618.8,775.7 1619.8,775.8 1620.8,775.9 1621.9,776.0 1622.9,776.1 1623.9,776.3 1624.9,776.4 1625.9,776.5 1626.9,776.6 1627.9,776.8 1628.9,776.9 1629.9,777.1 1630.9,777.2 1631.9,777.3 1632.9,777.5 1634.0,777.6 1635.0,777.7 1636.0,777.8 1637.0,777.9 1638.0,778.0 1639.0,778.0 1640.0,778.1 1641.0,778.1 1642.0,778.2 1643.0,778.2 1644.0,778.1 1645.0,778.1 1646.0,778.0 1646.9,778.0 1647.9,777.9 1648.9,777.7 1649.9,777.6 1650.8,777.4 1651.8,777.2 1652.7,777.0 1653.7,776.7 1654.6,776.5 1655.5,776.2 1656.4,775.8 1657.3,775.5 1658.2,775.1 1659.1,774.7 1660.0,774.3 1660.9,773.8 1661.7,773.3 1662.6,772.8 1663.4,772.3 1664.2,771.7 1665.0,771.2 1665.8,770.6 1666.6,770.0 1667.4,769.3 1668.1,768.7 1668.9,768.0 1669.6,767.4 1670.4,766.7 1671.1,766.0 1671.8,765.3 1672.5,764.6 1673.3,763.9 1674.0,763.1 1674.7,762.4 1675.4,761.7 1676.1,760.9 1676.8,760.2 1677.5,759.4 1678.2,758.7 1678.9,757.9 1679.6,757.2 1680.3,756.5 1681.0,755.7 1681.7,755.0 1682.4,754.3 1683.1,753.6 1683.9,752.9 1684.6,752.2 1685.4,751.5 1686.1,750.9 1686.9,750.2 1687.7,749.6 1688.5,749.0 1689.3,748.4 1690.1,747.8 1690.9,747.2 1691.7,746.6 1692.6,746.1 1693.4,745.6 1694.3,745.1 1695.2,744.6 1696.1,744.1 1696.9,743.6 1697.8,743.2 1698.7,742.7 1699.7,742.3 1700.6,741.8 1701.5,741.4 1702.4,741.0"/>
<polyline fill="none" stroke="#ff0000" stroke-width="4.7" stroke-linejoin="round" points="258.0,742.5 259.0,742.5 260.0,742.5 261.0,742.5 262.0,742.5 263.0,742.5 264.0,742.5 265.0,742.5 266.0,742.5 267.0,742.5 268.0,742.5 269.0,742.5 270.0,742.5 271.0,742.5 272.0,742.5 273.0,742.5 274.0,742.5 275.0,742.5 276.0,742.5 277.0,742.5 278.0,742.5 279.0,742.5 280.0,742.5 281.0,742.5 282.0,742.5 283.0,742.5 284.0,742.5 285.0,742.5 286.0,742.5 287.0,742.5 288.0,742.5 289.0,742.5 290.0,742.5 291.0,742.5 292.0,742.5 293.0,742.5 294.0,742.5 295.0,742.5 296.0,742.5 297.0,742.5 298.0,742.5 299.0,742.5 300.0,742.5 301.0,742.5 302.0,742.5 303.0,742.5 304.0,742.5 305.0,742.5 306.0,742.5 307.0,742.5 308.0,742.5 309.0,742.5 310.0,742.5 311.0,742.5 312.0,742.5 313.0,742.5 314.0,742.5 315.0,742.5 316.0,742.5 317.0,742.5 318.0,742.5 319.0,742.5 320.0,742.5 321.0,742.5 322.0,742.5 323.0,742.5 324.0,742.5 325.0,742.5 326.0,742.5 327.0,742.5 328.0,742.5 329.0,742.5 330.0,742.5 331.0,742.5 332.0,742.5 333.0,742.5 334.0,742.5 335.0,742.5 336.0,742.5 337.0,742.5 338.0,742.5 339.0,742.5 340.0,742.5 341.0,742.5 342.0,742.5 343.0,742.5 344.0,742.5 345.0,742.5 346.0,742.5 347.0,742.5 348.0,742.5 349.0,742.5 350.0,742.5 351.0,742.5 352.0,742.5 353.0,742.5 354.0,742.5 355.0,742.5 356.0,742.5 357.0,742.5 358.0,742.5 359.0,742.5 360.0,742.5 361.0,742.5 362.0,742.5 363.0,742.5 364.0,742.5 365.0,742.5 366.0,742.5 367.0,742.5 368.0,742.5 369.0,742.4 370.0,742.4 371.0,742.3 372.0,742.2 373.0,742.1 374.0,741.9 375.0,741.8 376.0,741.6 377.0,741.4 378.0,741.2 379.0,741.0 380.0,740.7 381.0,740.4 382.0,740.2 383.0,739.9 384.0,739.6 385.0,739.2 386.0,738.9 387.0,738.6 388.0,738.3 389.0,738.0 390.0,737.7 391.0,737.5 392.0,737.2 393.0,737.0 394.0,736.8 395.0,736.5 396.0,736.3 397.0,736.1 398.0,735.8 399.0,735.5 400.0,735.3 401.0,735.0 402.0,734.7 403.0,734.4 404.0,734.1 405.0,733.7 406.0,733.4 407.0,733.1 408.0,732.7 409.0,732.3 410.0,732.0 411.0,731.6 412.0,731.2 413.0,730.8 414.0,730.4 415.0,729.9 416.0,729.5 417.0,729.1 418.0,728.6 419.0,728.1 420.0,727.7 421.0,727.2 422.0,726.7 423.0,726.1 424.0,725.6 425.0,725.1 426.0,724.5 427.0,724.0 428.0,723.4 429.0,722.8 430.0,722.2 431.0,721.6 432.0,720.9 433.0,720.3 434.0,719.6 435.0,719.0 436.0,718.3 437.0,717.6 438.0,716.8 439.0,716.1 440.0,715.3 441.0,714.6 442.0,713.8 443.0,712.9 444.0,712.1 445.0,711.3 446.0,710.4 447.0,709.5 448.0,708.6 449.0,707.7 450.0,706.8 451.0,705.8 452.0,704.9 453.0,703.9 454.0,702.9 455.0,701.9 456.0,700.9 457.0,699.8 458.0,698.8 459.0,697.7 460.0,696.6 461.0,695.5 462.0,694.4 463.0,693.3 464.0,692.2 465.0,691.0 466.0,689.8 467.0,688.7 468.0,687.5 469.0,686.3 470.0,685.1 471.0,683.8 472.0,682.6 473.0,681.4 474.0,680.1 475.0,678.8 476.0,677.5 477.0,676.3 478.0,675.0 479.0,673.6 480.0,672.3 481.0,671.0 482.0,669.6 483.0,668.3 484.0,666.9 485.0,665.6 486.0,664.2 487.0,662.8 488.0,661.4 489.0,660.0 490.0,658.6 491.0,657.2 492.0,655.7 493.0,654.3 494.0,652.9 495.0,651.4 496.0,650.0 497.0,648.5 498.0,647.0 499.0,645.6 500.0,644.1 501.0,642.6 502.0,641.1 503.0,639.6 504.0,638.2 505.0,636.7 506.0,635.2 507.0,633.7 508.0,632.2 509.0,630.7 510.0,629.2 511.0,627.7 512.0,626.2 513.0,624.7 514.0,623.2 515.0,621.7 516.0,620.2 517.0,618.7 518.0,617.2 519.0,615.7 520.0,614.2 521.0,612.7 522.0,611.2 523.0,609.7 524.0,608.2 525.0,606.7 526.0,605.2 527.0,603.7 528.0,602.2 529.0,600.7 530.0,599.2 531.0,597.7 532.0,596.2 533.0,594.7 534.0,593.2 535.0,591.7 536.0,590.2 537.0,588.7 538.0,587.2 539.0,585.7 540.0,584.2 541.0,582.7 542.0,581.2 543.0,579.7 544.0,578.2 545.0,576.7 546.0,575.2 547.0,573.7 548.0,572.3 549.0,570.8 550.0,569.3 551.0,567.8 552.0,566.3 553.0,564.8 554.0,563.3 555.0,561.9 556.0,560.4 557.0,558.9 558.0,557.4 559.0,555.9 560.0,554.4 561.0,552.9 562.0,551.5 563.0,550.0 564.0,548.5 565.0,547.0 566.0,545.5 567.0,544.0 568.0,542.5 569.0,541.0 570.0,539.5 571.0,538.1 572.0,536.6 573.0,535.1 574.0,533.6 575.0,532.1 576.0,530.6 577.0,529.1 578.0,527.7 579.0,526.2 580.0,524.7 581.0,523.2 582.0,521.7 583.0,520.2 584.0,518.8 585.0,517.3 586.0,515.8 587.0,514.3 588.0,512.9 589.0,511.4 590.0,509.9 591.0,508.5 592.0,507.0 593.0,505.6 594.0,504.1 595.0,502.6 596.0,501.2 597.0,499.7 598.0,498.3 599.0,496.9 600.0,495.4 601.0,494.0 602.0,492.5 603.0,491.1 604.0,489.7 605.0,488.3 606.0,486.9 607.0,485.4 608.0,484.0 609.0,482.6 610.0,481.2 611.0,479.8 612.0,478.4 613.0,477.0 614.0,475.6 615.0,474.2 616.0,472.9 617.0,471.5 618.0,470.1 619.0,468.7 620.0,467.3 621.0,465.9 622.0,464.5 623.0,463.2 624.0,461.8 625.0,460.4 626.0,459.0 627.0,457.6 628.0,456.2 629.0,454.8 630.0,453.4 631.0,452.0 632.0,450.6 633.0,449.2 634.0,447.8 635.0,446.4 636.0,444.9 637.0,443.5 638.0,442.1 639.0,440.7 640.0,439.2 641.0,437.8 642.0,436.3 643.0,434.9 644.0,433.4 645.0,431.9 646.0,430.5 647.0,429.0 648.0,427.5 649.0,426.0 650.0,424.5 651.0,423.0 652.0,421.5 653.0,420.0 654.0,418.5 655.0,417.0 656.0,415.5 657.0,413.9 658.0,412.4 659.0,410.8 660.0,409.3 661.0,407.7 662.0,406.2 663.0,404.6 664.0,403.0 665.0,401.4 666.0,399.8 667.0,398.2 668.0,396.7 669.0,395.1 670.0,393.5 671.0,391.9 672.0,390.3 673.0,388.7 674.0,387.1 675.0,385.4 676.0,383.8 677.0,382.2 678.0,380.6 679.0,379.0 680.0,377.4 681.0,375.8 682.0,374.2 683.0,372.6 684.0,371.1 685.0,369.5 686.0,367.9 687.0,366.3 688.0,364.8 689.0,363.2 690.0,361.7 691.0,360.1 692.0,358.6 693.0,357.1 694.0,355.6 695.0,354.1 696.0,352.6 697.0,351.1 698.0,349.6 699.0,348.1 700.0,346.7 701.0,345.2 702.0,343.8 703.0,342.4 704.0,341.0 705.0,339.6 706.0,338.2 707.0,336.9 708.0,335.5 709.0,334.2 710.0,332.9 711.0,331.6 712.0,330.3 713.0,329.0 714.0,327.8 715.0,326.5 716.0,325.3 717.0,324.1 718.0,322.9 719.0,321.8 720.0,320.6 721.0,319.5 722.0,318.3 723.0,317.2 724.0,316.2 725.0,315.1 726.0,314.0 727.0,313.0 728.0,312.0 729.0,311.0 730.0,310.0 731.0,309.0 732.0,308.0 733.0,307.1 734.0,306.2 735.0,305.3 736.0,304.4 737.0,303.5 738.0,302.7 739.0,301.8 740.0,301.0 741.0,300.2 742.0,299.4 743.0,298.6 744.0,297.9 745.0,297.2 746.0,296.4 747.0,295.7 748.0,295.0 749.0,294.4 750.0,293.7 751.0,293.1 752.0,292.4 753.0,291.8 754.0,291.2 755.0,290.6 756.0,290.1 757.0,289.5 758.0,289.0 759.0,288.5 760.0,288.0 761.0,287.5 762.0,287.1 763.0,286.6 764.0,286.2 765.0,285.8 766.0,285.4 767.0,285.0 768.0,284.6 769.0,284.2 770.0,283.8 771.0,283.5 772.0,283.2 773.0,282.8 774.0,282.5 775.0,282.2 776.0,281.9 777.0,281.7 778.0,281.4 779.0,281.1 780.0,280.9 781.0,280.6 782.0,280.4 783.0,280.2 784.0,280.0 785.0,279.8 786.0,279.6 787.0,279.4 788.0,279.3 789.0,279.1 790.0,278.9 791.0,278.8 792.0,278.6 793.0,278.5 794.0,278.4 795.0,278.3 796.0,278.1 797.0,278.0 798.0,277.9 799.0,277.8 800.0,277.7 801.0,277.7 802.0,277.6 803.0,277.5 804.0,277.4 805.0,277.4 806.0,277.3 807.0,277.2 808.0,277.2 809.0,277.1 810.0,277.1 811.0,277.0 812.0,277.0 813.0,276.9 814.0,276.9 815.0,276.8 816.0,276.8 817.0,276.7 818.0,276.7 819.0,276.7 820.0,276.6 821.0,276.6 822.0,276.6 823.0,276.6 824.0,276.5 825.0,276.5 826.0,276.5 827.0,276.5 828.0,276.4 829.0,276.4 830.0,276.4 831.0,276.4 832.0,276.4 833.0,276.4 834.0,276.3 835.0,276.3 836.0,276.3 837.0,276.3 838.0,276.3 839.0,276.3 840.0,276.2 841.0,276.2 842.0,276.2 843.0,276.2 844.0,276.2 845.0,276.2 846.0,276.2 847.0,276.1 848.0,276.1 849.0,276.1 850.0,276.1 851.0,276.1 852.0,276.1 853.0,276.0 854.0,276.0 855.0,276.0 856.0,276.0 857.0,276.0 858.0,276.0 859.0,275.9 860.0,275.9 861.0,275.9 862.0,275.9 863.0,275.9 864.0,275.8 865.0,275.8 866.0,275.8 867.0,275.8 868.0,275.8 869.0,275.8 870.0,275.8 871.0,275.7 872.0,275.7 873.0,275.7 874.0,275.7 875.0,275.7 876.0,275.7 877.0,275.7 878.0,275.7 879.0,275.7 880.0,275.7 881.0,275.7 882.0,275.7 883.0,275.7 884.0,275.7 885.0,275.7 886.0,275.7 887.0,275.7 888.0,275.7 889.0,275.8 890.0,275.8 891.0,275.8 892.0,275.8 893.0,275.9 894.0,275.9 895.0,276.0 896.0,276.0 897.0,276.1 898.0,276.1 899.0,276.2 900.0,276.3 901.0,276.3 902.0,276.4 903.0,276.5 904.0,276.6 905.0,276.7 906.0,276.8 907.0,276.9 908.0,277.1 909.0,277.2 910.0,277.3 911.0,277.5 912.0,277.6 913.0,277.8 914.0,278.0 915.0,278.1 916.0,278.3 917.0,278.5 918.0,278.7 919.0,278.9 920.0,279.2 921.0,279.4 922.0,279.6 923.0,279.9 924.0,280.1 925.0,280.4 926.0,280.7 927.0,281.0 928.0,281.2 929.0,281.5 930.0,281.8 931.0,282.2 932.0,282.5 933.0,282.8 934.0,283.2 935.0,283.5 936.0,283.9 937.0,284.2 938.0,284.6 939.0,285.0 940.0,285.4 941.0,285.8 942.0,286.2 943.0,286.6 944.0,287.0 945.0,287.5 946.0,287.9 947.0,288.3 948.0,288.8 949.0,289.3 950.0,289.7 951.0,290.2 952.0,290.7 953.0,291.2 954.0,291.7 955.0,292.2 956.0,292.8 957.0,293.3 958.0,293.8 959.0,294.4 960.0,294.9 961.0,295.5 962.0,296.1 963.0,296.7 964.0,297.3 965.0,297.9 966.0,298.5 967.0,299.1 968.0,299.7 969.0,300.3 970.0,301.0 971.0,301.6 972.0,302.2 973.0,302.9 974.0,303.6 975.0,304.2 976.0,304.9 977.0,305.6 978.0,306.3 979.0,307.0 980.0,307.7 981.0,308.4 982.0,309.2 983.0,309.9 984.0,310.6 985.0,311.4 986.0,312.1 987.0,312.9 988.0,313.7 989.0,314.4 990.0,315.2 991.0,316.0 992.0,316.8 993.0,317.6 994.0,318.4 995.0,319.2 996.0,320.0 997.0,320.8 998.0,321.7 999.0,322.5 1000.0,323.3 1001.0,324.2 1002.0,325.0 1003.0,325.9 1004.0,326.7 1005.0,327.6 1006.0,328.4 1007.0,329.3 1008.0,330.2 1009.0,331.0 1010.0,331.9 1011.0,332.8 1012.0,333.7 1013.0,334.6 1014.0,335.5 1015.0,336.4 1016.0,337.3 1017.0,338.2 1018.0,339.1 1019.0,340.0 1020.0,340.9 1021.0,341.8 1022.0,342.7 1023.0,343.7 1024.0,344.6 1025.0,345.5 1026.0,346.5 1027.0,347.4 1028.0,348.3 1029.0,349.3 1030.0,350.2 1031.0,351.1 1032.0,352.1 1033.0,353.0 1034.0,354.0 1035.0,354.9 1036.0,355.9 1037.0,356.8 1038.0,357.8 1039.0,358.7 1040.0,359.7 1041.0,360.7 1042.0,361.6 1043.0,362.6 1044.0,363.5 1045.0,364.5 1046.0,365.4 1047.0,366.4 1048.0,367.3 1049.0,368.3 1050.0,369.2 1051.0,370.2 1052.0,371.2 1053.0,372.1 1054.0,373.1 1055.0,374.0 1056.0,375.0 1057.0,375.9 1058.0,376.8 1059.0,377.8 1060.0,378.7 1061.0,379.7 1062.0,380.6 1063.0,381.6 1064.0,382.5 1065.0,383.5 1066.0,384.4 1067.0,385.3 1068.0,386.3 1069.0,387.2 1070.0,388.2 1071.0,389.1 1072.0,390.0 1073.0,391.0 1074.0,391.9 1075.0,392.9 1076.0,393.8 1077.0,394.7 1078.0,395.7 1079.0,396.6 1080.0,397.5 1081.0,398.5 1082.0,399.4 1083.0,400.3 1084.0,401.3 1085.0,402.2 1086.0,403.1 1087.0,404.0 1088.0,405.0 1089.0,405.9 1090.0,406.8 1091.0,407.7 1092.0,408.7 1093.0,409.6 1094.0,410.5 1095.0,411.4 1096.0,412.4 1097.0,413.3 1098.0,414.2 1099.0,415.1 1100.0,416.0 1101.0,417.0 1102.0,417.9 1103.0,418.8 1104.0,419.7 1105.0,420.6 1106.0,421.5 1107.0,422.5 1108.0,423.4 1109.0,424.3 1110.0,425.2 1111.0,426.1 1112.0,427.0 1113.0,427.9 1114.0,428.8 1115.0,429.7 1116.0,430.6 1117.0,431.5 1118.0,432.4 1119.0,433.3 1120.0,434.2 1121.0,435.1 1122.0,436.0 1123.0,436.9 1124.0,437.8 1125.0,438.7 1126.0,439.6 1127.0,440.5 1128.0,441.4 1129.0,442.3 1130.0,443.3 1131.0,444.2 1132.0,445.1 1133.0,446.0 1134.0,446.9 1135.0,447.8 1136.0,448.7 1137.0,449.6 1138.0,450.5 1139.0,451.4 1140.0,452.3 1141.0,453.2 1142.0,454.1 1143.0,455.0 1144.0,455.9 1145.0,456.9 1146.0,457.8 1147.0,458.7 1148.0,459.6 1149.0,460.5 1150.0,461.5 1151.0,462.4 1152.0,463.3 1153.0,464.3 1154.0,465.2 1155.0,466.1 1156.0,467.0 1157.0,468.0 1158.0,468.9 1159.0,469.9 1160.0,470.8 1161.0,471.7 1162.0,472.7 1163.0,473.6 1164.0,474.6 1165.0,475.5 1166.0,476.5 1167.0,477.4 1168.0,478.4 1169.0,479.3 1170.0,480.3 1171.0,481.2 1172.0,482.2 1173.0,483.1 1174.0,484.1 1175.0,485.0 1176.0,486.0 1177.0,486.9 1178.0,487.9 1179.0,488.9 1180.0,489.8 1181.0,490.8 1182.0,491.7 1183.0,492.7 1184.0,493.6 1185.0,494.6 1186.0,495.5 1187.0,496.5 1188.0,497.5 1189.0,498.4 1190.0,499.4 1191.0,500.3 1192.0,501.3 1193.0,502.2 1194.0,503.1 1195.0,504.1 1196.0,505.0 1197.0,506.0 1198.0,506.9 1199.0,507.8 1200.0,508.8 1201.0,509.7 1202.0,510.6 1203.0,511.6 1204.0,512.5 1205.0,513.4 1206.0,514.4 1207.0,515.3 1208.0,516.2 1209.0,517.1 1210.0,518.0 1211.0,518.9 1212.0,519.9 1213.0,520.8 1214.0,521.7 1215.0,522.6 1216.0,523.5 1217.0,524.4 1218.0,525.3 1219.0,526.2 1220.0,527.1 1221.0,528.0 1222.0,528.8 1223.0,529.7 1224.0,530.6 1225.0,531.5 1226.0,532.4 1227.0,533.2 1228.0,534.1 1229.0,535.0 1230.0,535.8 1231.0,536.7 1232.0,537.5 1233.0,538.4 1234.0,539.2 1235.0,540.0 1236.0,540.9 1237.0,541.7 1238.0,542.5 1239.0,543.4 1240.0,544.2 1241.0,545.0 1242.0,545.8 1243.0,546.6 1244.0,547.4 1245.0,548.2 1246.0,549.0 1247.0,549.7 1248.0,550.5 1249.0,551.3 1250.0,552.1 1251.0,552.8 1252.0,553.6 1253.0,554.3 1254.0,555.1 1255.0,555.8 1256.0,556.5 1257.0,557.3 1258.0,558.0 1259.0,558.7 1260.0,559.4 1261.0,560.1 1262.0,560.8 1263.0,561.6 1264.0,562.3 1265.0,563.0 1266.0,563.7 1267.0,564.3 1268.0,565.0 1269.0,565.7 1270.0,566.4 1271.0,567.1 1272.0,567.8 1273.0,568.5 1274.0,569.1 1275.0,569.8 1276.0,570.5 1277.0,571.2 1278.0,571.8 1279.0,572.5 1280.0,573.2 1281.0,573.8 1282.0,574.5 1283.0,575.2 1284.0,575.8 1285.0,576.5 1286.0,577.1 1287.0,577.8 1288.0,578.5 1289.0,579.1 1290.0,579.8 1291.0,580.4 1292.0,581.1 1293.0,581.8 1294.0,582.4 1295.0,583.1 1296.0,583.7 1297.0,584.4 1298.0,585.0 1299.0,585.7 1300.0,586.4 1301.0,587.0 1302.0,587.7 1303.0,588.3 1304.0,589.0 1305.0,589.7 1306.0,590.3 1307.0,591.0 1308.0,591.6 1309.0,592.3 1310.0,593.0 1311.0,593.6 1312.0,594.3 1313.0,595.0 1314.0,595.6 1315.0,596.3 1316.0,597.0 1317.0,597.7 1318.0,598.3 1319.0,599.0 1320.0,599.7 1321.0,600.4 1322.0,601.0 1323.0,601.7 1324.0,602.4 1325.0,603.1 1326.0,603.8 1327.0,604.5 1328.0,605.2 1329.0,605.9 1330.0,606.6 1331.0,607.3 1332.0,608.0 1333.0,608.7 1334.0,609.4 1335.0,610.1 1336.0,610.9 1337.0,611.6 1338.0,612.3 1339.0,613.1 1340.0,613.8 1341.0,614.5 1342.0,615.3 1343.0,616.0 1344.0,616.8 1345.0,617.5 1346.0,618.3 1347.0,619.1 1348.0,619.8 1349.0,620.6 1350.0,621.4 1351.0,622.2 1352.0,622.9 1353.0,623.7 1354.0,624.5 1355.0,625.3 1356.0,626.1 1357.0,626.9 1358.0,627.7 1359.0,628.5 1360.0,629.3 1361.0,630.1 1362.0,630.9 1363.0,631.7 1364.0,632.5 1365.0,633.3 1366.0,634.1 1367.0,635.0 1368.0,635.8 1369.0,636.6 1370.0,637.4 1371.0,638.2 1372.0,639.0 1373.0,639.8 1374.0,640.7 1375.0,641.5 1376.0,642.3 1377.0,643.1 1378.0,643.9 1379.0,644.8 1380.0,645.6 1381.0,646.4 1382.0,647.2 1383.0,648.0 1384.0,648.9 1385.0,649.7 1386.0,650.5 1387.0,651.3 1388.0,652.1 1389.0,652.9 1390.0,653.7 1391.0,654.5 1392.0,655.3 1393.0,656.1 1394.0,657.0 1395.0,657.8 1396.0,658.6 1397.0,659.3 1398.0,660.1 1399.0,660.9 1400.0,661.7 1401.0,662.5 1402.0,663.3 1403.0,664.1 1404.0,664.8 1405.0,665.6 1406.0,666.4 1407.0,667.1 1408.0,667.9 1409.0,668.7 1410.0,669.4 1411.0,670.2 1412.0,670.9 1413.0,671.6 1414.0,672.4 1415.0,673.1 1416.0,673.8 1417.0,674.6 1418.0,675.3 1419.0,676.0 1420.0,676.7 1421.0,677.4 1422.0,678.1 1423.0,678.8 1424.0,679.5 1425.0,680.1 1426.0,680.8 1427.0,681.5 1428.0,682.1 1429.0,682.8 1430.0,683.4 1431.0,684.1 1432.0,684.7 1433.0,685.4 1434.0,686.0 1435.0,686.6 1436.0,687.2 1437.0,687.9 1438.0,688.5 1439.0,689.1 1440.0,689.7 1441.0,690.3 1442.0,690.8 1443.0,691.4 1444.0,692.0 1445.0,692.6 1446.0,693.1 1447.0,693.7 1448.0,694.3 1449.0,694.8 1450.0,695.3 1451.0,695.9 1452.0,696.4 1453.0,696.9 1454.0,697.4 1455.0,698.0 1456.0,698.5 1457.0,699.0 1458.0,699.4 1459.0,699.9 1460.0,700.4 1461.0,700.9 1462.0,701.3 1463.0,701.8 1464.0,702.2 1465.0,702.7 1466.0,703.1 1467.0,703.5 1468.0,703.9 1469.0,704.3 1470.0,704.7 1471.0,705.1 1472.0,705.5 1473.0,705.9 1474.0,706.3 1475.0,706.7 1476.0,707.1 1477.0,707.4 1478.0,707.8 1479.0,708.2 1480.0,708.5 1481.0,708.9 1482.0,709.2 1483.0,709.6 1484.0,709.9 1485.0,710.3 1486.0,710.6 1487.0,710.9 1488.0,711.3 1489.0,711.6 1490.0,711.9 1491.0,712.3 1492.0,712.6 1493.0,712.9 1494.0,713.2 1495.0,713.5 1496.0,713.9 1497.0,714.2 1498.0,714.5 1499.0,714.8 1500.0,715.1 1501.0,715.4 1502.0,715.7 1503.0,716.0 1504.0,716.3 1505.0,716.6 1506.0,716.9 1507.0,717.2 1508.0,717.5 1509.0,717.7 1510.0,718.0 1511.0,718.3 1512.0,718.6 1513.0,718.9 1514.0,719.2 1515.0,719.4 1516.0,719.7 1517.0,720.0 1518.0,720.2 1519.0,720.5 1520.0,720.8 1521.0,721.0 1522.0,721.3 1523.0,721.6 1524.0,721.8 1525.0,722.1 1526.0,722.3 1527.0,722.6 1528.0,722.8 1529.0,723.1 1530.0,723.3 1531.0,723.6 1532.0,723.8 1533.0,724.1 1534.0,724.3 1535.0,724.5 1536.0,724.8 1537.0,725.0 1538.0,725.2 1539.0,725.5 1540.0,725.7 1541.0,725.9 1542.0,726.1 1543.0,726.3 1544.0,726.6 1545.0,726.8 1546.0,727.0 1547.0,727.2 1548.0,727.4 1549.0,727.6 1550.0,727.8 1551.0,728.0 1552.0,728.2 1553.0,728.4 1554.0,728.6 1555.0,728.7 1556.0,728.9 1557.0,729.1 1558.0,729.3 1559.0,729.5 1560.0,729.6 1561.0,729.8 1562.0,730.0 1563.0,730.2 1564.0,730.3 1565.0,730.5 1566.0,730.6 1567.0,730.8 1568.0,730.9 1569.0,731.1 1570.0,731.2 1571.0,731.4 1572.0,731.5 1573.0,731.7 1574.0,731.8 1575.0,732.0 1576.0,732.1 1577.0,732.2 1578.0,732.4 1579.0,732.5 1580.0,732.6 1581.0,732.7 1582.0,732.9 1583.0,733.0 1584.0,733.1 1585.0,733.2 1586.0,733.4 1587.0,733.5 1588.0,733.6 1589.0,733.7 1590.0,733.8 1591.0,733.9 1592.0,734.0 1593.0,734.1 1594.0,734.2 1595.0,734.3 1596.0,734.4 1597.0,734.5 1598.0,734.6 1599.0,734.7 1600.0,734.8 1601.0,734.9 1602.0,735.0 1603.0,735.1 1604.0,735.2 1605.0,735.3 1606.0,735.4 1607.0,735.5 1608.0,735.6 1609.0,735.7 1610.0,735.8 1611.0,735.9 1612.0,736.0 1613.0,736.0 1614.0,736.1 1615.0,736.2 1616.0,736.3 1617.0,736.4 1618.0,736.5 1619.0,736.6 1620.0,736.7 1621.0,736.8 1622.0,736.9 1623.0,737.0 1624.0,737.1 1625.0,737.1 1626.0,737.2 1627.0,737.3 1628.0,737.4 1629.0,737.5 1630.0,737.6 1631.0,737.7 1632.0,737.8 1633.0,737.9 1634.0,738.0 1635.0,738.1 1636.0,738.2 1637.0,738.3 1638.0,738.4 1639.0,738.5 1640.0,738.6 1641.0,738.7 1642.0,738.7 1643.0,738.8 1644.0,738.9 1645.0,739.0 1646.0,739.1 1647.0,739.2 1648.0,739.3 1649.0,739.4 1650.0,739.5 1651.0,739.6 1652.0,739.7 1653.0,739.8 1654.0,739.8 1655.0,739.9 1656.0,740.0 1657.0,740.1 1658.0,740.2 1659.0,740.3 1660.0,740.3 1661.0,740.4 1662.0,740.5 1663.0,740.6 1664.0,740.6 1665.0,740.7 1666.0,740.8 1667.0,740.8 1668.0,740.9 1669.0,741.0 1670.0,741.0 1671.0,741.1 1672.0,741.1 1673.0,741.2 1674.0,741.2 1675.0,741.3 1676.0,741.3 1677.0,741.3 1678.0,741.4 1679.0,741.4 1680.0,741.4 1681.0,741.4 1682.0,741.5 1683.0,741.5 1684.0,741.5 1685.0,741.5 1686.0,741.5 1687.0,741.5 1688.0,741.5 1689.0,741.5 1690.0,741.5 1691.0,741.5 1692.0,741.5 1693.0,741.5 1694.0,741.5 1695.0,741.5 1696.0,741.5 1697.0,741.5 1698.0,741.4 1699.0,741.4 1700.0,741.4 1701.0,741.4 1702.0,741.4 1703.0,741.3 1704.0,741.3 1705.0,741.3 1706.0,741.3"/>
<polyline fill="none" stroke="#5b9bd5" stroke-width="4.3" stroke-linejoin="round" points="258.0,740.1 392.0,740.1 393.0,740.0 394.0,740.0 395.0,740.0 396.0,739.9 397.0,739.9 398.0,739.8 399.0,739.8 400.0,739.7 401.0,739.7 402.0,739.6 403.0,739.6 404.0,739.5 405.0,739.4 406.0,739.4 407.0,739.3 408.0,739.2 409.0,739.1 410.0,739.1 411.0,739.0 412.0,738.9 413.0,738.8 414.0,738.7 415.0,738.6 416.0,738.5 417.0,738.4 418.0,738.3 419.0,738.2 420.0,738.1 421.0,737.9 422.0,737.8 423.0,737.7 424.0,737.6 425.0,737.4 426.0,737.3 427.0,737.2 428.0,737.0 429.0,736.9 430.0,736.8 431.0,736.6 432.0,736.5 433.0,736.3 434.0,736.2 435.0,736.0 436.0,735.9 437.0,735.7 438.0,735.6 439.0,735.4 440.0,735.2 441.0,735.1 442.0,734.9 443.0,734.7 444.0,734.5 445.0,734.4 446.0,734.2 447.0,734.0 448.0,733.8 449.0,733.6 450.0,733.4 451.0,733.3 452.0,733.1 453.0,732.9 454.0,732.7 455.0,732.5 456.0,732.3 457.0,732.1 458.0,731.9 459.0,731.7 460.0,731.5 461.0,731.2 462.0,731.0 463.0,730.8 464.0,730.6 465.0,730.4 466.0,730.2 467.0,729.9 468.0,729.7 469.0,729.5 470.0,729.3 471.0,729.0 472.0,728.8 473.0,728.6 474.0,728.4 475.0,728.1 476.0,727.9 477.0,727.7 478.0,727.4 479.0,727.2 480.0,726.9 481.0,726.7 482.0,726.4 483.0,726.2 484.0,725.9 485.0,725.7 486.0,725.4 487.0,725.2 488.0,724.9 489.0,724.7 490.0,724.4 491.0,724.2 492.0,723.9 493.0,723.7 494.0,723.4 495.0,723.1 496.0,722.9 497.0,722.6 498.0,722.3 499.0,722.1 500.0,721.8 501.0,721.5 502.0,721.2 503.0,721.0 504.0,720.7 505.0,720.4 506.0,720.1 507.0,719.8 508.0,719.6 509.0,719.3 510.0,719.0 511.0,718.7 512.0,718.4 513.0,718.1 514.0,717.8 515.0,717.5 516.0,717.2 517.0,716.9 518.0,716.7 519.0,716.4 520.0,716.1 521.0,715.8 522.0,715.5 523.0,715.1 524.0,714.8 525.0,714.5 526.0,714.2 527.0,713.9 528.0,713.6 529.0,713.3 530.0,713.0 531.0,712.7 532.0,712.4 533.0,712.0 534.0,711.7 535.0,711.4 536.0,711.1 537.0,710.8 538.0,710.4 539.0,710.1 540.0,709.8 541.0,709.5 542.0,709.1 543.0,708.8 544.0,708.5 545.0,708.1 546.0,707.8 547.0,707.5 548.0,707.1 549.0,706.8 550.0,706.4 551.0,706.1 552.0,705.8 553.0,705.4 554.0,705.1 555.0,704.7 556.0,704.4 557.0,704.0 558.0,703.7 559.0,703.3 560.0,703.0 561.0,702.6 562.0,702.3 563.0,701.9 564.0,701.6 565.0,701.2 566.0,700.9 567.0,700.5 568.0,700.1 569.0,699.8 570.0,699.4 571.0,699.0 572.0,698.7 573.0,698.3 574.0,697.9 575.0,697.6 576.0,697.2 577.0,696.8 578.0,696.5 579.0,696.1 580.0,695.7 581.0,695.3 582.0,695.0 583.0,694.6 584.0,694.2 585.0,693.8 586.0,693.4 587.0,693.0 588.0,692.7 589.0,692.3 590.0,691.9 591.0,691.5 592.0,691.1 593.0,690.7 594.0,690.3 595.0,689.9 596.0,689.6 597.0,689.2 598.0,688.8 599.0,688.4 600.0,688.0 601.0,687.6 602.0,687.2 603.0,686.8 604.0,686.4 605.0,686.0 606.0,685.6 607.0,685.2 608.0,684.8 609.0,684.3 610.0,683.9 611.0,683.5 612.0,683.1 613.0,682.7 614.0,682.3 615.0,681.9 616.0,681.5 617.0,681.1 618.0,680.6 619.0,680.2 620.0,679.8 621.0,679.4 622.0,679.0 623.0,678.5 624.0,678.1 625.0,677.7 626.0,677.3 627.0,676.9 628.0,676.4 629.0,676.0 630.0,675.6 631.0,675.2 632.0,674.7 633.0,674.3 634.0,673.9 635.0,673.4 636.0,673.0 637.0,672.6 638.0,672.1 639.0,671.7 640.0,671.3 641.0,670.8 642.0,670.4 643.0,669.9 644.0,669.5 645.0,669.1 646.0,668.6 647.0,668.2 648.0,667.7 649.0,667.3 650.0,666.8 651.0,666.4 652.0,665.9 653.0,665.5 654.0,665.0 655.0,664.6 656.0,664.1 657.0,663.7 658.0,663.2 659.0,662.8 660.0,662.3 661.0,661.9 662.0,661.4 663.0,661.0 664.0,660.5 665.0,660.1 666.0,659.6 667.0,659.1 668.0,658.7 669.0,658.2 670.0,657.7 671.0,657.3 672.0,656.8 673.0,656.4 674.0,655.9 675.0,655.4 676.0,655.0 677.0,654.5 678.0,654.0 679.0,653.6 680.0,653.1 681.0,652.6 682.0,652.1 683.0,651.7 684.0,651.2 685.0,650.7 686.0,650.2 687.0,649.8 688.0,649.3 689.0,648.8 690.0,648.3 691.0,647.9 692.0,647.4 693.0,646.9 694.0,646.4 695.0,645.9 696.0,645.5 697.0,645.0 698.0,644.5 699.0,644.0 700.0,643.5 701.0,643.0 702.0,642.6 703.0,642.1 704.0,641.6 705.0,641.1 706.0,640.6 707.0,640.1 708.0,639.6 709.0,639.1 710.0,638.6 711.0,638.2 712.0,637.7 713.0,637.2 714.0,636.7 715.0,636.2 716.0,635.7 717.0,635.2 718.0,634.7 719.0,634.2 720.0,633.7 721.0,633.2 722.0,632.7 723.0,632.2 724.0,631.7 725.0,631.2 726.0,630.7 727.0,630.2 728.0,629.7 729.0,629.2 730.0,628.7 731.0,628.2 732.0,627.7 733.0,627.2 734.0,626.7 735.0,626.2 736.0,625.7 737.0,625.2 738.0,624.7 739.0,624.1 740.0,623.6 741.0,623.1 742.0,622.6 743.0,622.1 744.0,621.6 745.0,621.1 746.0,620.6 747.0,620.1 748.0,619.6 749.0,619.0 750.0,618.5 751.0,618.0 752.0,617.5 753.0,617.0 754.0,616.5 755.0,616.0 756.0,615.4 757.0,614.9 758.0,614.4 759.0,613.9 760.0,613.4 761.0,612.9 762.0,612.4 763.0,611.8 764.0,611.3 765.0,610.8 766.0,610.3 767.0,609.8 768.0,609.3 769.0,608.7 770.0,608.2 771.0,607.7 772.0,607.2 773.0,606.7 774.0,606.1 775.0,605.6 776.0,605.1 777.0,604.6 778.0,604.1 779.0,603.5 780.0,603.0 781.0,602.5 782.0,602.0 783.0,601.5 784.0,600.9 785.0,600.4 786.0,599.9 787.0,599.4 788.0,598.9 789.0,598.3 790.0,597.8 791.0,597.3 792.0,596.8 793.0,596.3 794.0,595.7 795.0,595.2 796.0,594.7 797.0,594.2 798.0,593.7 799.0,593.1 800.0,592.6 801.0,592.1 802.0,591.6 803.0,591.0 804.0,590.5 805.0,590.0 806.0,589.5 807.0,589.0 808.0,588.4 809.0,587.9 810.0,587.4 811.0,586.9 812.0,586.4 813.0,585.8 814.0,585.3 815.0,584.8 816.0,584.3 817.0,583.8 818.0,583.3 819.0,582.7 820.0,582.2 821.0,581.7 822.0,581.2 823.0,580.7 824.0,580.1 825.0,579.6 826.0,579.1 827.0,578.6 828.0,578.1 829.0,577.6 830.0,577.0 831.0,576.5 832.0,576.0 833.0,575.5 834.0,575.0 835.0,574.5 836.0,574.0 837.0,573.4 838.0,572.9 839.0,572.4 840.0,571.9 841.0,571.4 842.0,570.9 843.0,570.4 844.0,569.9 845.0,569.4 846.0,568.8 847.0,568.3 848.0,567.8 849.0,567.3 850.0,566.8 851.0,566.3 852.0,565.8 853.0,565.3 854.0,564.8 855.0,564.3 856.0,563.8 857.0,563.3 858.0,562.8 859.0,562.3 860.0,561.8 861.0,561.3 862.0,560.8 863.0,560.3 864.0,559.8 865.0,559.3 866.0,558.8 867.0,558.3 868.0,557.8 869.0,557.3 870.0,556.8 871.0,556.3 872.0,555.8 873.0,555.3 874.0,554.8 875.0,554.3 876.0,553.8 877.0,553.3 878.0,552.8 879.0,552.3 880.0,551.8 881.0,551.3 882.0,550.9 883.0,550.4 884.0,549.9 885.0,549.4 886.0,548.9 887.0,548.4 888.0,547.9 889.0,547.5 890.0,547.0 891.0,546.5 892.0,546.0 893.0,545.5 894.0,545.1 895.0,544.6 896.0,544.1 897.0,543.6 898.0,543.2 899.0,542.7 900.0,542.2 901.0,541.7 902.0,541.3 903.0,540.8 904.0,540.3 905.0,539.9 906.0,539.4 907.0,538.9 908.0,538.5 909.0,538.0 910.0,537.5 911.0,537.1 912.0,536.6 913.0,536.1 914.0,535.7 915.0,535.2 916.0,534.8 917.0,534.3 918.0,533.8 919.0,533.4 920.0,532.9 921.0,532.5 922.0,532.0 923.0,531.6 924.0,531.1 925.0,530.7 926.0,530.2 927.0,529.8 928.0,529.3 929.0,528.9 930.0,528.4 931.0,528.0 932.0,527.5 933.0,527.1 934.0,526.7 935.0,526.2 936.0,525.8 937.0,525.3 938.0,524.9 939.0,524.5 940.0,524.0 941.0,523.6 942.0,523.2 943.0,522.7 944.0,522.3 945.0,521.9 946.0,521.4 947.0,521.0 948.0,520.6 949.0,520.1 950.0,519.7 951.0,519.3 952.0,518.9 953.0,518.4 954.0,518.0 955.0,517.6 956.0,517.2 957.0,516.7 958.0,516.3 959.0,515.9 960.0,515.5 961.0,515.1 962.0,514.7 963.0,514.2 964.0,513.8 965.0,513.4 966.0,513.0 967.0,512.6 968.0,512.2 969.0,511.8 970.0,511.4 971.0,511.0 972.0,510.5 973.0,510.1 974.0,509.7 975.0,509.3 976.0,508.9 977.0,508.5 978.0,508.1 979.0,507.7 980.0,507.3 981.0,506.9 982.0,506.5 983.0,506.1 984.0,505.7 985.0,505.3 986.0,504.9 987.0,504.6 988.0,504.2 989.0,503.8 990.0,503.4 991.0,503.0 992.0,502.6 993.0,502.2 994.0,501.8 995.0,501.4 996.0,501.1 997.0,500.7 998.0,500.3 999.0,499.9 1000.0,499.5 1001.0,499.2 1002.0,498.8 1003.0,498.4 1004.0,498.0 1005.0,497.6 1006.0,497.3 1007.0,496.9 1008.0,496.5 1009.0,496.2 1010.0,495.8 1011.0,495.4 1012.0,495.0 1013.0,494.7 1014.0,494.3 1015.0,493.9 1016.0,493.6 1017.0,493.2 1018.0,492.8 1019.0,492.5 1020.0,492.1 1021.0,491.8 1022.0,491.4 1023.0,491.0 1024.0,490.7 1025.0,490.3 1026.0,490.0 1027.0,489.6 1028.0,489.3 1029.0,488.9 1030.0,488.6 1031.0,488.2 1032.0,487.9 1033.0,487.5 1034.0,487.2 1035.0,486.8 1036.0,486.5 1037.0,486.1 1038.0,485.8 1039.0,485.4 1040.0,485.1 1041.0,484.7 1042.0,484.4 1043.0,484.1 1044.0,483.7 1045.0,483.4 1046.0,483.0 1047.0,482.7 1048.0,482.4 1049.0,482.0 1050.0,481.7 1051.0,481.4 1052.0,481.0 1053.0,480.7 1054.0,480.4 1055.0,480.0 1056.0,479.7 1057.0,479.4 1058.0,479.1 1059.0,478.7 1060.0,478.4 1061.0,478.1 1062.0,477.8 1063.0,477.4 1064.0,477.1 1065.0,476.8 1066.0,476.5 1067.0,476.2 1068.0,475.9 1069.0,475.5 1070.0,475.2 1071.0,474.9 1072.0,474.6 1073.0,474.3 1074.0,474.0 1075.0,473.7 1076.0,473.4 1077.0,473.0 1078.0,472.7 1079.0,472.4 1080.0,472.1 1081.0,471.8 1082.0,471.5 1083.0,471.2 1084.0,470.9 1085.0,470.6 1086.0,470.3 1087.0,470.0 1088.0,469.7 1089.0,469.4 1090.0,469.1 1091.0,468.8 1092.0,468.5 1093.0,468.2 1094.0,468.0 1095.0,467.7 1096.0,467.4 1097.0,467.1 1098.0,466.8 1099.0,466.5 1100.0,466.2 1101.0,465.9 1102.0,465.6 1103.0,465.4 1104.0,465.1 1105.0,464.8 1106.0,464.5 1107.0,464.2 1108.0,464.0 1109.0,463.7 1110.0,463.4 1111.0,463.1 1112.0,462.9 1113.0,462.6 1114.0,462.3 1115.0,462.0 1116.0,461.8 1117.0,461.5 1118.0,461.2 1119.0,461.0 1120.0,460.7 1121.0,460.4 1122.0,460.2 1123.0,459.9 1124.0,459.6 1125.0,459.4 1126.0,459.1 1127.0,458.8 1128.0,458.6 1129.0,458.3 1130.0,458.1 1131.0,457.8 1132.0,457.5 1133.0,457.3 1134.0,457.0 1135.0,456.8 1136.0,456.5 1137.0,456.3 1138.0,456.0 1139.0,455.8 1140.0,455.5 1141.0,455.3 1142.0,455.0 1143.0,454.8 1144.0,454.5 1145.0,454.3 1146.0,454.1 1147.0,453.8 1148.0,453.6 1149.0,453.3 1150.0,453.1 1151.0,452.9 1152.0,452.6 1153.0,452.4 1154.0,452.2 1155.0,451.9 1156.0,451.7 1157.0,451.5 1158.0,451.2 1159.0,451.0 1160.0,450.8 1161.0,450.5 1162.0,450.3 1163.0,450.1 1164.0,449.9 1165.0,449.6 1166.0,449.4 1167.0,449.2 1168.0,449.0 1169.0,448.7 1170.0,448.5 1171.0,448.3 1172.0,448.1 1173.0,447.9 1174.0,447.6 1175.0,447.4 1176.0,447.2 1177.0,447.0 1178.0,446.8 1179.0,446.6 1180.0,446.4 1181.0,446.2 1182.0,446.0 1183.0,445.7 1184.0,445.5 1185.0,445.3 1186.0,445.1 1187.0,444.9 1188.0,444.7 1189.0,444.5 1190.0,444.3 1191.0,444.1 1192.0,443.9 1193.0,443.7 1194.0,443.5 1195.0,443.3 1196.0,443.1 1197.0,442.9 1198.0,442.7 1199.0,442.5 1200.0,442.4 1201.0,442.2 1202.0,442.0 1203.0,441.8 1204.0,441.6 1205.0,441.4 1206.0,441.2 1207.0,441.0 1208.0,440.9 1209.0,440.7 1210.0,440.5 1211.0,440.3 1212.0,440.1 1213.0,440.0 1214.0,439.8 1215.0,439.6 1216.0,439.4 1217.0,439.2 1218.0,439.1 1219.0,438.9 1220.0,438.7 1221.0,438.6 1222.0,438.4 1223.0,438.2 1224.0,438.0 1225.0,437.9 1226.0,437.7 1227.0,437.5 1228.0,437.4 1229.0,437.2 1230.0,437.1 1231.0,436.9 1232.0,436.7 1233.0,436.6 1234.0,436.4 1235.0,436.3 1236.0,436.1 1237.0,435.9 1238.0,435.8 1239.0,435.6 1240.0,435.5 1241.0,435.3 1242.0,435.2 1243.0,435.0 1244.0,434.9 1245.0,434.7 1246.0,434.6 1247.0,434.4 1248.0,434.3 1249.0,434.1 1250.0,434.0 1251.0,433.9 1252.0,433.7 1253.0,433.6 1254.0,433.4 1255.0,433.3 1256.0,433.2 1257.0,433.0 1258.0,432.9 1259.0,432.8 1260.0,432.6 1261.0,432.5 1262.0,432.4 1263.0,432.2 1264.0,432.1 1265.0,432.0 1266.0,431.8 1267.0,431.7 1268.0,431.6 1269.0,431.5 1270.0,431.3 1271.0,431.2 1272.0,431.1 1273.0,431.0 1274.0,430.8 1275.0,430.7 1276.0,430.6 1277.0,430.5 1278.0,430.4 1279.0,430.2 1280.0,430.1 1281.0,430.0 1282.0,429.9 1283.0,429.8 1284.0,429.7 1285.0,429.6 1286.0,429.4 1287.0,429.3 1288.0,429.2 1289.0,429.1 1290.0,429.0 1291.0,428.9 1292.0,428.8 1293.0,428.7 1294.0,428.6 1295.0,428.5 1296.0,428.4 1297.0,428.3 1298.0,428.2 1299.0,428.1 1300.0,428.0 1301.0,427.9 1302.0,427.8 1303.0,427.7 1304.0,427.6 1305.0,427.5 1306.0,427.4 1307.0,427.3 1308.0,427.2 1309.0,427.1 1310.0,427.0 1311.0,426.9 1312.0,426.8 1313.0,426.8 1314.0,426.7 1315.0,426.6 1316.0,426.5 1317.0,426.4 1318.0,426.3 1319.0,426.2 1320.0,426.2 1321.0,426.1 1322.0,426.0 1323.0,425.9 1324.0,425.8 1325.0,425.7 1326.0,425.7 1327.0,425.6 1328.0,425.5 1329.0,425.4 1330.0,425.4 1331.0,425.3 1332.0,425.2 1333.0,425.1 1334.0,425.1 1335.0,425.0 1336.0,424.9 1337.0,424.8 1338.0,424.8 1339.0,424.7 1340.0,424.6 1341.0,424.6 1342.0,424.5 1343.0,424.4 1344.0,424.4 1345.0,424.3 1346.0,424.2 1347.0,424.2 1348.0,424.1 1349.0,424.0 1350.0,424.0 1351.0,423.9 1352.0,423.8 1353.0,423.8 1354.0,423.7 1355.0,423.7 1356.0,423.6 1357.0,423.5 1358.0,423.5 1359.0,423.4 1360.0,423.4 1361.0,423.3 1362.0,423.3 1363.0,423.2 1364.0,423.1 1365.0,423.1 1366.0,423.0 1367.0,423.0 1368.0,422.9 1369.0,422.9 1370.0,422.8 1371.0,422.8 1372.0,422.7 1373.0,422.7 1374.0,422.6 1375.0,422.6 1376.0,422.5 1377.0,422.5 1378.0,422.4 1379.0,422.4 1380.0,422.3 1381.0,422.3 1382.0,422.3 1383.0,422.2 1384.0,422.2 1385.0,422.1 1386.0,422.1 1387.0,422.0 1388.0,422.0 1389.0,422.0 1390.0,421.9 1391.0,421.9 1392.0,421.8 1393.0,421.8 1394.0,421.8 1395.0,421.7 1396.0,421.7 1397.0,421.7 1398.0,421.6 1399.0,421.6 1400.0,421.5 1401.0,421.5 1402.0,421.5 1403.0,421.4 1404.0,421.4 1405.0,421.4 1406.0,421.3 1407.0,421.3 1408.0,421.3 1409.0,421.3 1410.0,421.2 1411.0,421.2 1412.0,421.2 1413.0,421.1 1414.0,421.1 1415.0,421.1 1416.0,421.0 1417.0,421.0 1418.0,421.0 1419.0,421.0 1420.0,420.9 1421.0,420.9 1422.0,420.9 1423.0,420.9 1424.0,420.8 1425.0,420.8 1426.0,420.8 1427.0,420.8 1428.0,420.7 1429.0,420.7 1430.0,420.7 1431.0,420.7 1432.0,420.7 1433.0,420.6 1434.0,420.6 1435.0,420.6 1436.0,420.6 1437.0,420.6 1438.0,420.5 1439.0,420.5 1440.0,420.5 1441.0,420.5 1442.0,420.5 1443.0,420.4 1444.0,420.4 1445.0,420.4 1446.0,420.4 1447.0,420.4 1448.0,420.4 1449.0,420.4 1450.0,420.3 1451.0,420.3 1452.0,420.3 1453.0,420.3 1454.0,420.3 1455.0,420.3 1456.0,420.3 1457.0,420.2 1458.0,420.2 1459.0,420.2 1460.0,420.2 1461.0,420.2 1462.0,420.2 1463.0,420.2 1464.0,420.2 1465.0,420.1 1466.0,420.1 1467.0,420.1 1468.0,420.1 1469.0,420.1 1470.0,420.1 1471.0,420.1 1472.0,420.1 1473.0,420.1 1474.0,420.1 1475.0,420.1 1476.0,420.0 1477.0,420.0 1478.0,420.0 1479.0,420.0 1480.0,420.0 1481.0,420.0 1482.0,420.0 1483.0,420.0 1484.0,420.0 1485.0,420.0 1486.0,420.0 1487.0,420.0 1488.0,420.0 1489.0,420.0 1490.0,420.0 1491.0,420.0 1492.0,420.0 1493.0,420.0 1494.0,419.9 1495.0,419.9 1496.0,419.9 1497.0,419.9 1498.0,419.9 1499.0,419.9 1500.0,419.9 1501.0,419.9 1502.0,419.9 1503.0,419.9 1504.0,419.9 1505.0,419.9 1506.0,419.9 1507.0,419.9 1508.0,419.9 1509.0,419.9 1510.0,419.9 1511.0,419.9 1512.0,419.9 1513.0,419.9 1514.0,419.9 1515.0,419.9 1516.0,419.9 1517.0,419.9 1518.0,419.9 1519.0,419.9 1520.0,419.9 1521.0,419.9 1522.0,419.9 1523.0,419.9 1524.0,419.9 1525.0,419.9 1526.0,419.9 1527.0,419.9 1528.0,419.9 1529.0,419.9 1530.0,419.9 1531.0,419.9 1532.0,419.9 1533.0,419.9 1534.0,419.9 1535.0,419.9 1536.0,419.9 1537.0,419.9 1538.0,419.9 1539.0,419.9 1540.0,419.9 1541.0,419.9 1542.0,419.9 1543.0,419.9 1544.0,419.9 1545.0,419.9 1546.0,419.9 1547.0,419.9 1548.0,419.9 1549.0,419.9 1550.0,419.9 1551.0,419.9 1552.0,419.9 1553.0,419.9 1554.0,419.9 1555.0,419.9 1556.0,419.9 1557.0,419.9 1558.0,419.9 1559.0,419.9 1560.0,419.9 1561.0,419.9 1562.0,419.9 1563.0,420.0 1564.0,420.0 1565.0,420.0 1566.0,420.0 1567.0,420.0 1568.0,420.0 1569.0,420.0 1570.0,420.0 1571.0,420.0 1572.0,420.0 1573.0,420.0 1574.0,420.0 1575.0,420.0 1576.0,420.0 1577.0,420.0 1578.0,420.0 1579.0,420.0 1580.0,420.0 1581.0,420.0 1582.0,420.0 1583.0,420.0 1584.0,420.0 1585.0,420.0 1586.0,420.0 1587.0,420.0 1588.0,420.0 1589.0,420.0 1590.0,420.0 1591.0,420.0 1592.0,420.0 1593.0,420.0 1594.0,420.0 1595.0,420.0 1596.0,420.0 1597.0,419.9 1598.0,419.9 1599.0,419.9 1600.0,419.9 1601.0,419.9 1602.0,419.9 1603.0,419.9 1604.0,419.9 1605.0,419.9 1606.0,419.9 1607.0,419.9 1608.0,419.9 1609.0,419.9 1610.0,419.9 1611.0,419.9 1612.0,419.9 1613.0,419.9 1614.0,419.9 1615.0,419.9 1616.0,419.9 1617.0,419.9 1618.0,419.9 1619.0,419.9 1620.0,419.9 1621.0,419.9 1622.0,419.8 1623.0,419.8 1624.0,419.8 1625.0,419.8 1626.0,419.8 1627.0,419.8 1628.0,419.8 1629.0,419.8 1630.0,419.8 1631.0,419.8 1632.0,419.8 1633.0,419.8 1634.0,419.8 1635.0,419.7 1636.0,419.7 1637.0,419.7 1638.0,419.7 1639.0,419.7 1640.0,419.7 1641.0,419.7 1642.0,419.7 1643.0,419.7 1644.0,419.6 1645.0,419.6 1646.0,419.6 1647.0,419.6 1648.0,419.6 1649.0,419.6 1650.0,419.6 1651.0,419.5 1652.0,419.5 1653.0,419.5 1654.0,419.5 1655.0,419.5 1656.0,419.5 1657.0,419.5 1658.0,419.4 1659.0,419.4 1660.0,419.4 1661.0,419.4 1662.0,419.4 1663.0,419.3 1664.0,419.3 1665.0,419.3 1666.0,419.3 1667.0,419.3 1668.0,419.3 1669.0,419.2 1670.0,419.2 1671.0,419.2 1672.0,419.2 1673.0,419.1 1674.0,419.1 1675.0,419.1 1676.0,419.1 1677.0,419.1 1678.0,419.0 1679.0,419.0 1680.0,419.0 1681.0,419.0 1682.0,418.9 1683.0,418.9 1684.0,418.9 1685.0,418.8 1686.0,418.8 1687.0,418.8 1688.0,418.8 1689.0,418.7 1690.0,418.7 1691.0,418.7 1692.0,418.6 1693.0,418.6 1694.0,418.6 1695.0,418.6 1696.0,418.5 1697.0,418.5 1698.0,418.5 1699.0,418.4 1700.0,418.4 1701.0,418.4 1702.0,418.3 1703.0,418.3 1704.0,418.3 1705.0,418.2 1706.0,418.2"/>
<rect x="260" y="743" width="71" height="2.2" fill="#8b4a22"/>
<rect x="765.1" y="257.2" width="5.4" height="3" fill="#555"/>
<rect x="765.1" y="260" width="5.4" height="950.7" fill="#050505"/>
<rect x="931.3" y="257.2" width="5.5" height="3" fill="#ccc"/>
<rect x="931.3" y="260" width="2.7" height="954" fill="#444"/>
<rect x="934" y="260" width="2.8" height="954" fill="#000"/>
<rect x="331.2" y="732" width="2.8" height="475.2" fill="#000"/>
<rect x="334" y="732" width="2.7" height="475.2" fill="#c0c0c0"/>
<rect x="337.0" y="1182" width="161.0" height="2.6" fill="#000"/>
<rect x="337.0" y="1184.6" width="161.0" height="2.4" fill="#8a8a8a"/>
<rect x="600.0" y="1182" width="165.0" height="2.6" fill="#000"/>
<rect x="600.0" y="1184.6" width="165.0" height="2.4" fill="#8a8a8a"/>
<rect x="771.0" y="1182" width="28.0" height="2.6" fill="#000"/>
<rect x="771.0" y="1184.6" width="28.0" height="2.4" fill="#8a8a8a"/>
<rect x="903.0" y="1182" width="28.0" height="2.6" fill="#000"/>
<rect x="903.0" y="1184.6" width="28.0" height="2.4" fill="#8a8a8a"/>
<rect x="937.0" y="1182" width="402.0" height="2.6" fill="#000"/>
<rect x="937.0" y="1184.6" width="402.0" height="2.4" fill="#8a8a8a"/>
<rect x="1441.0" y="1182" width="261.0" height="2.6" fill="#000"/>
<rect x="1441.0" y="1184.6" width="261.0" height="2.4" fill="#8a8a8a"/>
<polygon points="335.8,1184.5 349.0,1176.5 349.0,1192.5" fill="#000"/>
<polygon points="765.2,1184.5 752.0,1176.5 752.0,1192.5" fill="#000"/>
<polygon points="772.6,1184.5 785.8,1176.5 785.8,1192.5" fill="#000"/>
<polygon points="931.6,1184.5 918.4,1176.5 918.4,1192.5" fill="#000"/>
<polygon points="939.0,1184.5 952.2,1176.5 952.2,1192.5" fill="#000"/>
<polygon points="1702.5,1184.5 1689.3,1176.5 1689.3,1192.5" fill="#000"/>
<rect x="498.0" y="1127.3" width="103.3" height="92.6" fill="#fff"/>
<rect x="498.0" y="1127.3" width="103.3" height="2.7" fill="#000"/>
<rect x="498.0" y="1217.2" width="103.3" height="2.7" fill="#000"/>
<rect x="495.3" y="1127.3" width="2.7" height="92.6" fill="#aaa"/>
<rect x="498.0" y="1127.3" width="2.5" height="92.6" fill="#555"/>
<rect x="596.1" y="1130.0" width="2.6" height="87.2" fill="#ccc"/>
<rect x="598.7" y="1127.3" width="2.6" height="92.6" fill="#333"/>
<rect x="798.1" y="1132.8" width="105.9" height="92.6" fill="#fff"/>
<rect x="798.1" y="1132.8" width="105.9" height="2.7" fill="#000"/>
<rect x="798.1" y="1222.7" width="105.9" height="2.7" fill="#000"/>
<rect x="798.1" y="1132.8" width="2.7" height="92.6" fill="#000"/>
<rect x="901.3" y="1132.8" width="2.7" height="92.6" fill="#000"/>
<rect x="798.1" y="1225.4" width="105.9" height="2.5" fill="#b0b0b0"/>
<rect x="1338.1" y="1138.1" width="103.4" height="92.6" fill="#fff"/>
<rect x="1338.1" y="1138.1" width="103.4" height="2.7" fill="#000"/>
<rect x="1338.1" y="1228.0" width="103.4" height="2.7" fill="#2a2a2a"/>
<rect x="1338.1" y="1138.1" width="2.7" height="92.6" fill="#000"/>
<rect x="1438.8" y="1138.1" width="2.7" height="92.6" fill="#000"/>
<rect x="1338.1" y="1230.7" width="103.4" height="2.5" fill="#e0e0e0"/>
<text font-family="'Liberation Sans',sans-serif" font-size="50" x="518.3" y="1191.3">p<tspan font-size="34" x="546.3" y="1203.0">A</tspan></text>
<text font-family="'Liberation Sans',sans-serif" font-size="50" x="821.3" y="1197.4">p<tspan font-size="34" x="848.5" y="1208.4">S</tspan></text>
<text font-family="'Liberation Sans',sans-serif" font-size="50" x="1359.5" y="1202.3">p<tspan font-size="34" x="1387.5" y="1213.8">D</tspan></text>
<rect x="1073.3" y="126.2" width="515.7" height="231.6" fill="#fff"/>
<rect x="1073.3" y="126.2" width="515.7" height="2.8" fill="#555"/>
<rect x="1076.2" y="129" width="510" height="2.6" fill="#b4b4b4"/>
<rect x="1073.3" y="126.2" width="2.9" height="231.6" fill="#444"/>
<rect x="1076.2" y="131.6" width="2.6" height="223.5" fill="#d0d0d0"/>
<rect x="1586.1" y="126.2" width="2.9" height="231.6" fill="#000"/>
<rect x="1073.3" y="355.1" width="515.7" height="2.7" fill="#0a0a0a"/>
<rect x="1149.7" y="164.4" width="57.2" height="5.6" fill="#00b050"/>
<rect x="1149.7" y="240.7" width="57.2" height="5.6" fill="#ff0000"/>
<rect x="1149.7" y="314.6" width="57.2" height="5.6" fill="#5b9bd5"/>
<g font-family="'Liberation Sans',sans-serif" font-size="51">
<text x="1210.5" y="183.2" textLength="279" lengthAdjust="spacingAndGlyphs">Acceleration</text>
<text x="1210.5" y="258.8" textLength="177.5" lengthAdjust="spacingAndGlyphs">Velocity</text>
<text x="1210.5" y="333.8" textLength="302" lengthAdjust="spacingAndGlyphs">Displacement</text>
</g>
<g font-family="'Liberation Sans',sans-serif" font-size="51">
<text transform="translate(86.1,879) rotate(-90)" x="0" y="0"><tspan textLength="388" lengthAdjust="spacingAndGlyphs">Acceleration, m/s</tspan><tspan font-size="34" dy="-16.6">2</tspan></text>
<text transform="translate(1916.2,861.5) rotate(-90)" x="0" y="0" textLength="371" lengthAdjust="spacingAndGlyphs">Displacement, m</text>
<text transform="translate(1983.8,818.3) rotate(-90)" x="0" y="0" textLength="283" lengthAdjust="spacingAndGlyphs">Velocity, m/s</text>
</g>
</svg></body></html>
